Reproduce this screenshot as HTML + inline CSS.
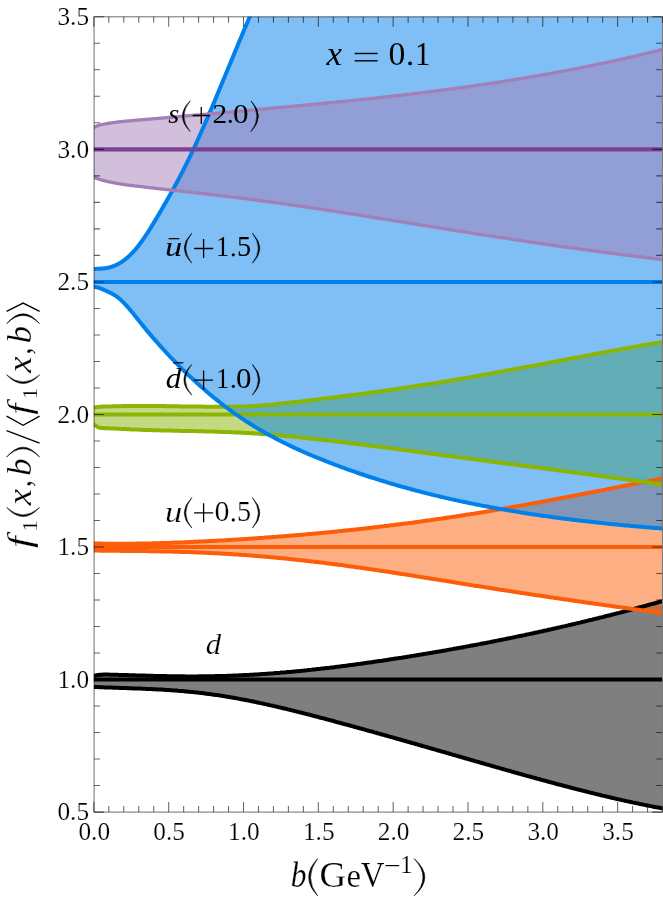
<!DOCTYPE html>
<html><head><meta charset="utf-8"><title>plot</title>
<style>html,body{margin:0;padding:0;background:#fff}svg{display:block;will-change:transform}text{font-family:"Liberation Serif",serif}</style></head>
<body>
<svg width="663" height="908" viewBox="0 0 663 908" font-family="'Liberation Serif', serif">
<rect width="663" height="908" fill="#fff"/>
<defs><clipPath id="c"><rect x="93.85" y="16.8" width="568.15" height="795.30"/></clipPath></defs>
<g clip-path="url(#c)">
<polygon points="93.8,675.8 94.3,675.7 94.8,675.6 95.3,675.5 95.8,675.4 96.3,675.3 96.8,675.2 97.3,675.1 97.8,675.1 98.3,675.0 98.8,674.9 99.3,674.9 99.8,674.8 100.3,674.8 100.8,674.7 101.3,674.7 101.8,674.7 102.3,674.7 102.8,674.6 103.3,674.6 103.8,674.6 104.3,674.6 104.8,674.6 105.3,674.6 105.8,674.6 106.3,674.6 106.8,674.6 107.3,674.6 107.8,674.6 108.3,674.6 108.8,674.6 109.3,674.6 109.8,674.7 110.3,674.7 110.8,674.7 111.3,674.7 111.8,674.7 112.3,674.7 112.8,674.7 113.3,674.7 113.8,674.7 114.3,674.8 114.8,674.8 115.3,674.8 115.8,674.8 116.3,674.8 116.8,674.8 117.3,674.8 117.8,674.8 118.3,674.9 118.8,674.9 119.3,674.9 119.8,674.9 120.3,674.9 120.8,674.9 121.3,674.9 121.8,675.0 122.3,675.0 122.8,675.0 123.3,675.0 123.8,675.0 124.3,675.0 124.8,675.0 125.3,675.1 125.8,675.1 126.3,675.1 126.8,675.1 127.3,675.1 127.8,675.1 128.3,675.1 128.8,675.2 129.3,675.2 129.8,675.2 130.0,675.2 131.5,675.2 133.0,675.3 134.5,675.3 136.0,675.4 137.5,675.4 139.0,675.5 140.5,675.5 142.0,675.6 143.5,675.6 145.0,675.6 146.5,675.7 148.0,675.7 149.5,675.8 151.0,675.8 152.5,675.8 154.0,675.9 155.5,675.9 157.0,676.0 158.5,676.0 160.0,676.0 161.5,676.1 163.0,676.1 164.5,676.1 166.0,676.1 167.5,676.2 169.0,676.2 170.5,676.2 172.0,676.2 173.5,676.2 175.0,676.3 176.5,676.3 178.0,676.3 179.5,676.3 181.0,676.3 182.5,676.3 184.0,676.3 185.5,676.4 187.0,676.4 188.5,676.4 190.0,676.4 191.5,676.4 193.0,676.4 194.5,676.4 196.0,676.4 197.5,676.4 199.0,676.3 200.5,676.3 202.0,676.3 203.5,676.3 205.0,676.3 206.5,676.3 208.0,676.3 209.5,676.2 211.0,676.2 212.5,676.2 214.0,676.2 215.5,676.1 217.0,676.1 218.5,676.1 220.0,676.0 221.5,676.0 223.0,675.9 224.5,675.9 226.0,675.9 227.5,675.8 229.0,675.8 230.5,675.7 232.0,675.7 233.5,675.6 235.0,675.5 236.5,675.5 238.0,675.4 239.5,675.3 241.0,675.3 242.5,675.2 244.0,675.1 245.5,675.1 247.0,675.0 248.5,674.9 250.0,674.8 251.5,674.7 253.0,674.7 254.5,674.6 256.0,674.5 257.5,674.4 259.0,674.3 260.5,674.2 262.0,674.1 263.5,674.0 265.0,673.9 266.5,673.8 268.0,673.7 269.5,673.6 271.0,673.5 272.5,673.4 274.0,673.2 275.5,673.1 277.0,673.0 278.5,672.9 280.0,672.8 281.5,672.6 283.0,672.5 284.5,672.4 286.0,672.3 287.5,672.1 289.0,672.0 290.5,671.9 292.0,671.7 293.5,671.6 295.0,671.4 296.5,671.3 298.0,671.2 299.5,671.0 301.0,670.9 302.5,670.7 304.0,670.6 305.5,670.4 307.0,670.3 308.5,670.1 310.0,669.9 311.5,669.8 313.0,669.6 314.5,669.5 316.0,669.3 317.5,669.1 319.0,669.0 320.5,668.8 322.0,668.6 323.5,668.5 325.0,668.3 326.5,668.1 328.0,667.9 329.5,667.8 331.0,667.6 332.5,667.4 334.0,667.2 335.5,667.0 337.0,666.8 338.5,666.7 340.0,666.5 341.5,666.3 343.0,666.1 344.5,665.9 346.0,665.7 347.5,665.5 349.0,665.3 350.5,665.1 352.0,664.9 353.5,664.7 355.0,664.5 356.5,664.3 358.0,664.1 359.5,663.9 361.0,663.7 362.5,663.5 364.0,663.3 365.5,663.1 367.0,662.8 368.5,662.6 370.0,662.4 371.5,662.2 373.0,662.0 374.5,661.8 376.0,661.6 377.5,661.3 379.0,661.1 380.5,660.9 382.0,660.7 383.5,660.4 385.0,660.2 386.5,660.0 388.0,659.8 389.5,659.5 391.0,659.3 392.5,659.1 394.0,658.8 395.5,658.6 397.0,658.4 398.5,658.1 400.0,657.9 401.5,657.7 403.0,657.4 404.5,657.2 406.0,657.0 407.5,656.7 409.0,656.5 410.5,656.2 412.0,656.0 413.5,655.8 415.0,655.5 416.5,655.3 418.0,655.0 419.5,654.8 421.0,654.5 422.5,654.3 424.0,654.0 425.5,653.8 427.0,653.5 428.5,653.3 430.0,653.0 431.5,652.8 433.0,652.5 434.5,652.3 436.0,652.0 437.5,651.7 439.0,651.5 440.5,651.2 442.0,651.0 443.5,650.7 445.0,650.4 446.5,650.2 448.0,649.9 449.5,649.6 451.0,649.4 452.5,649.1 454.0,648.8 455.5,648.6 457.0,648.3 458.5,648.0 460.0,647.7 461.5,647.5 463.0,647.2 464.5,646.9 466.0,646.6 467.5,646.4 469.0,646.1 470.5,645.8 472.0,645.5 473.5,645.2 475.0,645.0 476.5,644.7 478.0,644.4 479.5,644.1 481.0,643.8 482.5,643.5 484.0,643.2 485.5,643.0 487.0,642.7 488.5,642.4 490.0,642.1 491.5,641.8 493.0,641.5 494.5,641.2 496.0,640.9 497.5,640.6 499.0,640.3 500.5,640.0 502.0,639.7 503.5,639.4 505.0,639.1 506.5,638.8 508.0,638.5 509.5,638.2 511.0,637.9 512.5,637.6 514.0,637.3 515.5,636.9 517.0,636.6 518.5,636.3 520.0,636.0 521.5,635.7 523.0,635.4 524.5,635.1 526.0,634.7 527.5,634.4 529.0,634.1 530.5,633.8 532.0,633.5 533.5,633.1 535.0,632.8 536.5,632.5 538.0,632.2 539.5,631.8 541.0,631.5 542.5,631.2 544.0,630.8 545.5,630.5 547.0,630.2 548.5,629.8 550.0,629.5 551.5,629.2 553.0,628.8 554.5,628.5 556.0,628.1 557.5,627.8 559.0,627.5 560.5,627.1 562.0,626.8 563.5,626.4 565.0,626.1 566.5,625.7 568.0,625.4 569.5,625.0 571.0,624.7 572.5,624.3 574.0,624.0 575.5,623.6 577.0,623.3 578.5,622.9 580.0,622.6 581.5,622.2 583.0,621.8 584.5,621.5 586.0,621.1 587.5,620.8 589.0,620.4 590.5,620.0 592.0,619.7 593.5,619.3 595.0,618.9 596.5,618.5 598.0,618.2 599.5,617.8 601.0,617.4 602.5,617.1 604.0,616.7 605.5,616.3 607.0,615.9 608.5,615.5 610.0,615.2 611.5,614.8 613.0,614.4 614.5,614.0 616.0,613.6 617.5,613.2 619.0,612.9 620.5,612.5 622.0,612.1 623.5,611.7 625.0,611.3 626.5,610.9 628.0,610.5 629.5,610.1 631.0,609.7 632.5,609.3 634.0,608.9 635.5,608.5 637.0,608.1 638.5,607.7 640.0,607.3 641.5,606.9 643.0,606.5 644.5,606.1 646.0,605.7 647.5,605.2 649.0,604.8 650.5,604.4 652.0,604.0 653.5,603.6 655.0,603.2 656.5,602.8 658.0,602.3 659.5,601.9 661.0,601.5 662.5,601.1 664.0,600.6 664.0,808.7 662.5,808.4 661.0,808.1 659.5,807.8 658.0,807.5 656.5,807.2 655.0,807.0 653.5,806.7 652.0,806.4 650.5,806.1 649.0,805.8 647.5,805.5 646.0,805.2 644.5,804.9 643.0,804.6 641.5,804.3 640.0,804.0 638.5,803.6 637.0,803.3 635.5,803.0 634.0,802.7 632.5,802.4 631.0,802.0 629.5,801.7 628.0,801.4 626.5,801.1 625.0,800.7 623.5,800.4 622.0,800.1 620.5,799.7 619.0,799.4 617.5,799.1 616.0,798.7 614.5,798.4 613.0,798.0 611.5,797.7 610.0,797.3 608.5,797.0 607.0,796.6 605.5,796.3 604.0,795.9 602.5,795.6 601.0,795.2 599.5,794.8 598.0,794.5 596.5,794.1 595.0,793.7 593.5,793.4 592.0,793.0 590.5,792.6 589.0,792.3 587.5,791.9 586.0,791.5 584.5,791.1 583.0,790.8 581.5,790.4 580.0,790.0 578.5,789.6 577.0,789.2 575.5,788.9 574.0,788.5 572.5,788.1 571.0,787.7 569.5,787.3 568.0,786.9 566.5,786.5 565.0,786.1 563.5,785.7 562.0,785.3 560.5,784.9 559.0,784.5 557.5,784.2 556.0,783.8 554.5,783.3 553.0,782.9 551.5,782.5 550.0,782.1 548.5,781.7 547.0,781.3 545.5,780.9 544.0,780.5 542.5,780.1 541.0,779.7 539.5,779.3 538.0,778.9 536.5,778.5 535.0,778.0 533.5,777.6 532.0,777.2 530.5,776.8 529.0,776.4 527.5,776.0 526.0,775.6 524.5,775.1 523.0,774.7 521.5,774.3 520.0,773.9 518.5,773.5 517.0,773.0 515.5,772.6 514.0,772.2 512.5,771.8 511.0,771.3 509.5,770.9 508.0,770.5 506.5,770.1 505.0,769.6 503.5,769.2 502.0,768.8 500.5,768.4 499.0,767.9 497.5,767.5 496.0,767.1 494.5,766.6 493.0,766.2 491.5,765.8 490.0,765.4 488.5,764.9 487.0,764.5 485.5,764.1 484.0,763.6 482.5,763.2 481.0,762.8 479.5,762.3 478.0,761.9 476.5,761.5 475.0,761.1 473.5,760.6 472.0,760.2 470.5,759.8 469.0,759.3 467.5,758.9 466.0,758.5 464.5,758.0 463.0,757.6 461.5,757.2 460.0,756.7 458.5,756.3 457.0,755.9 455.5,755.4 454.0,755.0 452.5,754.6 451.0,754.1 449.5,753.7 448.0,753.3 446.5,752.8 445.0,752.4 443.5,752.0 442.0,751.6 440.5,751.1 439.0,750.7 437.5,750.3 436.0,749.8 434.5,749.4 433.0,749.0 431.5,748.5 430.0,748.1 428.5,747.7 427.0,747.2 425.5,746.8 424.0,746.4 422.5,746.0 421.0,745.5 419.5,745.1 418.0,744.7 416.5,744.2 415.0,743.8 413.5,743.4 412.0,743.0 410.5,742.5 409.0,742.1 407.5,741.7 406.0,741.2 404.5,740.8 403.0,740.4 401.5,740.0 400.0,739.5 398.5,739.1 397.0,738.7 395.5,738.3 394.0,737.8 392.5,737.4 391.0,737.0 389.5,736.6 388.0,736.1 386.5,735.7 385.0,735.3 383.5,734.9 382.0,734.5 380.5,734.0 379.0,733.6 377.5,733.2 376.0,732.8 374.5,732.4 373.0,731.9 371.5,731.5 370.0,731.1 368.5,730.7 367.0,730.3 365.5,729.9 364.0,729.4 362.5,729.0 361.0,728.6 359.5,728.2 358.0,727.8 356.5,727.4 355.0,727.0 353.5,726.5 352.0,726.1 350.5,725.7 349.0,725.3 347.5,724.9 346.0,724.5 344.5,724.1 343.0,723.7 341.5,723.3 340.0,722.9 338.5,722.5 337.0,722.1 335.5,721.7 334.0,721.2 332.5,720.8 331.0,720.4 329.5,720.0 328.0,719.6 326.5,719.2 325.0,718.8 323.5,718.4 322.0,718.0 320.5,717.7 319.0,717.3 317.5,716.9 316.0,716.5 314.5,716.1 313.0,715.7 311.5,715.3 310.0,714.9 308.5,714.5 307.0,714.1 305.5,713.8 304.0,713.4 302.5,713.0 301.0,712.6 299.5,712.2 298.0,711.9 296.5,711.5 295.0,711.1 293.5,710.7 292.0,710.4 290.5,710.0 289.0,709.6 287.5,709.3 286.0,708.9 284.5,708.5 283.0,708.2 281.5,707.8 280.0,707.5 278.5,707.1 277.0,706.8 275.5,706.4 274.0,706.1 272.5,705.7 271.0,705.4 269.5,705.1 268.0,704.7 266.5,704.4 265.0,704.1 263.5,703.7 262.0,703.4 260.5,703.1 259.0,702.8 257.5,702.5 256.0,702.1 254.5,701.8 253.0,701.5 251.5,701.2 250.0,700.9 248.5,700.6 247.0,700.3 245.5,700.0 244.0,699.7 242.5,699.4 241.0,699.2 239.5,698.9 238.0,698.6 236.5,698.3 235.0,698.1 233.5,697.8 232.0,697.5 230.5,697.3 229.0,697.0 227.5,696.8 226.0,696.5 224.5,696.3 223.0,696.0 221.5,695.8 220.0,695.6 218.5,695.3 217.0,695.1 215.5,694.9 214.0,694.7 212.5,694.5 211.0,694.3 209.5,694.1 208.0,693.9 206.5,693.7 205.0,693.5 203.5,693.3 202.0,693.1 200.5,692.9 199.0,692.8 197.5,692.6 196.0,692.4 194.5,692.3 193.0,692.1 191.5,692.0 190.0,691.8 188.5,691.7 187.0,691.5 185.5,691.4 184.0,691.2 182.5,691.1 181.0,691.0 179.5,690.9 178.0,690.8 176.5,690.6 175.0,690.5 173.5,690.4 172.0,690.3 170.5,690.2 169.0,690.1 167.5,690.0 166.0,689.9 164.5,689.8 163.0,689.7 161.5,689.6 160.0,689.6 158.5,689.5 157.0,689.4 155.5,689.3 154.0,689.2 152.5,689.2 151.0,689.1 149.5,689.0 148.0,689.0 146.5,688.9 145.0,688.8 143.5,688.8 142.0,688.7 140.5,688.6 139.0,688.6 137.5,688.5 136.0,688.5 134.5,688.4 133.0,688.4 131.5,688.3 130.0,688.2 129.8,688.2 129.3,688.2 128.8,688.2 128.3,688.2 127.8,688.2 127.3,688.2 126.8,688.1 126.3,688.1 125.8,688.1 125.3,688.1 124.8,688.1 124.3,688.1 123.8,688.0 123.3,688.0 122.8,688.0 122.3,688.0 121.8,688.0 121.3,687.9 120.8,687.9 120.3,687.9 119.8,687.9 119.3,687.9 118.8,687.9 118.3,687.8 117.8,687.8 117.3,687.8 116.8,687.8 116.3,687.8 115.8,687.8 115.3,687.7 114.8,687.7 114.3,687.7 113.8,687.7 113.3,687.7 112.8,687.7 112.3,687.6 111.8,687.6 111.3,687.6 110.8,687.6 110.3,687.6 109.8,687.6 109.3,687.5 108.8,687.5 108.3,687.5 107.8,687.5 107.3,687.5 106.8,687.4 106.3,687.4 105.8,687.4 105.3,687.4 104.8,687.4 104.3,687.4 103.8,687.3 103.3,687.3 102.8,687.3 102.3,687.3 101.8,687.3 101.3,687.2 100.8,687.2 100.3,687.2 99.8,687.2 99.3,687.2 98.8,687.1 98.3,687.1 97.8,687.1 97.3,687.1 96.8,687.1 96.3,687.0 95.8,687.0 95.3,687.0 94.8,687.0 94.3,687.0 93.8,687.0" fill="#000000" fill-opacity="0.5"/>
<polygon points="93.8,543.5 94.3,543.5 94.8,543.5 95.3,543.5 95.8,543.5 96.3,543.5 96.8,543.5 97.3,543.6 97.8,543.6 98.3,543.6 98.8,543.6 99.3,543.6 99.8,543.6 100.3,543.6 100.8,543.6 101.3,543.6 101.8,543.6 102.3,543.6 102.8,543.6 103.3,543.7 103.8,543.7 104.3,543.7 104.8,543.7 105.3,543.7 105.8,543.7 106.3,543.7 106.8,543.7 107.3,543.7 107.8,543.7 108.3,543.7 108.8,543.7 109.3,543.7 109.8,543.7 110.3,543.7 110.8,543.7 111.3,543.7 111.8,543.7 112.3,543.7 112.8,543.7 113.3,543.7 113.8,543.8 114.3,543.8 114.8,543.8 115.3,543.8 115.8,543.8 116.3,543.8 116.8,543.8 117.3,543.8 117.8,543.8 118.3,543.8 118.8,543.8 119.3,543.8 119.8,543.8 120.3,543.8 120.8,543.8 121.3,543.8 121.8,543.8 122.3,543.8 122.8,543.8 123.3,543.8 123.8,543.8 124.3,543.8 124.8,543.8 125.3,543.7 125.8,543.7 126.3,543.7 126.8,543.7 127.3,543.7 127.8,543.7 128.3,543.7 128.8,543.7 129.3,543.7 129.8,543.7 130.0,543.7 131.5,543.7 133.0,543.7 134.5,543.7 136.0,543.7 137.5,543.6 139.0,543.6 140.5,543.6 142.0,543.6 143.5,543.5 145.0,543.5 146.5,543.5 148.0,543.4 149.5,543.4 151.0,543.4 152.5,543.3 154.0,543.3 155.5,543.3 157.0,543.2 158.5,543.2 160.0,543.1 161.5,543.1 163.0,543.1 164.5,543.0 166.0,543.0 167.5,542.9 169.0,542.9 170.5,542.8 172.0,542.8 173.5,542.7 175.0,542.6 176.5,542.6 178.0,542.5 179.5,542.5 181.0,542.4 182.5,542.4 184.0,542.3 185.5,542.2 187.0,542.2 188.5,542.1 190.0,542.0 191.5,542.0 193.0,541.9 194.5,541.8 196.0,541.8 197.5,541.7 199.0,541.6 200.5,541.5 202.0,541.5 203.5,541.4 205.0,541.3 206.5,541.2 208.0,541.2 209.5,541.1 211.0,541.0 212.5,540.9 214.0,540.9 215.5,540.8 217.0,540.7 218.5,540.6 220.0,540.5 221.5,540.4 223.0,540.4 224.5,540.3 226.0,540.2 227.5,540.1 229.0,540.0 230.5,539.9 232.0,539.8 233.5,539.7 235.0,539.7 236.5,539.6 238.0,539.5 239.5,539.4 241.0,539.3 242.5,539.2 244.0,539.1 245.5,539.0 247.0,538.9 248.5,538.8 250.0,538.7 251.5,538.6 253.0,538.5 254.5,538.4 256.0,538.3 257.5,538.2 259.0,538.1 260.5,538.0 262.0,537.9 263.5,537.8 265.0,537.6 266.5,537.5 268.0,537.4 269.5,537.3 271.0,537.2 272.5,537.1 274.0,537.0 275.5,536.9 277.0,536.8 278.5,536.6 280.0,536.5 281.5,536.4 283.0,536.3 284.5,536.2 286.0,536.0 287.5,535.9 289.0,535.8 290.5,535.7 292.0,535.5 293.5,535.4 295.0,535.3 296.5,535.2 298.0,535.0 299.5,534.9 301.0,534.8 302.5,534.7 304.0,534.5 305.5,534.4 307.0,534.3 308.5,534.1 310.0,534.0 311.5,533.9 313.0,533.7 314.5,533.6 316.0,533.4 317.5,533.3 319.0,533.2 320.5,533.0 322.0,532.9 323.5,532.7 325.0,532.6 326.5,532.4 328.0,532.3 329.5,532.2 331.0,532.0 332.5,531.9 334.0,531.7 335.5,531.6 337.0,531.4 338.5,531.3 340.0,531.1 341.5,530.9 343.0,530.8 344.5,530.6 346.0,530.5 347.5,530.3 349.0,530.2 350.5,530.0 352.0,529.8 353.5,529.7 355.0,529.5 356.5,529.4 358.0,529.2 359.5,529.0 361.0,528.9 362.5,528.7 364.0,528.5 365.5,528.4 367.0,528.2 368.5,528.0 370.0,527.9 371.5,527.7 373.0,527.5 374.5,527.3 376.0,527.2 377.5,527.0 379.0,526.8 380.5,526.6 382.0,526.4 383.5,526.3 385.0,526.1 386.5,525.9 388.0,525.7 389.5,525.5 391.0,525.3 392.5,525.2 394.0,525.0 395.5,524.8 397.0,524.6 398.5,524.4 400.0,524.2 401.5,524.0 403.0,523.8 404.5,523.6 406.0,523.4 407.5,523.3 409.0,523.1 410.5,522.9 412.0,522.7 413.5,522.5 415.0,522.3 416.5,522.1 418.0,521.9 419.5,521.7 421.0,521.4 422.5,521.2 424.0,521.0 425.5,520.8 427.0,520.6 428.5,520.4 430.0,520.2 431.5,520.0 433.0,519.8 434.5,519.6 436.0,519.3 437.5,519.1 439.0,518.9 440.5,518.7 442.0,518.5 443.5,518.3 445.0,518.0 446.5,517.8 448.0,517.6 449.5,517.4 451.0,517.1 452.5,516.9 454.0,516.7 455.5,516.5 457.0,516.2 458.5,516.0 460.0,515.8 461.5,515.5 463.0,515.3 464.5,515.1 466.0,514.8 467.5,514.6 469.0,514.4 470.5,514.1 472.0,513.9 473.5,513.7 475.0,513.4 476.5,513.2 478.0,512.9 479.5,512.7 481.0,512.4 482.5,512.2 484.0,512.0 485.5,511.7 487.0,511.5 488.5,511.2 490.0,511.0 491.5,510.7 493.0,510.4 494.5,510.2 496.0,509.9 497.5,509.7 499.0,509.4 500.5,509.2 502.0,508.9 503.5,508.7 505.0,508.4 506.5,508.1 508.0,507.9 509.5,507.6 511.0,507.3 512.5,507.1 514.0,506.8 515.5,506.5 517.0,506.3 518.5,506.0 520.0,505.7 521.5,505.5 523.0,505.2 524.5,504.9 526.0,504.7 527.5,504.4 529.0,504.1 530.5,503.8 532.0,503.6 533.5,503.3 535.0,503.0 536.5,502.7 538.0,502.5 539.5,502.2 541.0,501.9 542.5,501.6 544.0,501.4 545.5,501.1 547.0,500.8 548.5,500.5 550.0,500.2 551.5,500.0 553.0,499.7 554.5,499.4 556.0,499.1 557.5,498.8 559.0,498.5 560.5,498.3 562.0,498.0 563.5,497.7 565.0,497.4 566.5,497.1 568.0,496.8 569.5,496.5 571.0,496.3 572.5,496.0 574.0,495.7 575.5,495.4 577.0,495.1 578.5,494.8 580.0,494.5 581.5,494.2 583.0,493.9 584.5,493.7 586.0,493.4 587.5,493.1 589.0,492.8 590.5,492.5 592.0,492.2 593.5,491.9 595.0,491.6 596.5,491.3 598.0,491.0 599.5,490.7 601.0,490.4 602.5,490.1 604.0,489.9 605.5,489.6 607.0,489.3 608.5,489.0 610.0,488.7 611.5,488.4 613.0,488.1 614.5,487.8 616.0,487.5 617.5,487.2 619.0,486.9 620.5,486.6 622.0,486.3 623.5,486.0 625.0,485.7 626.5,485.5 628.0,485.2 629.5,484.9 631.0,484.6 632.5,484.3 634.0,484.0 635.5,483.7 637.0,483.4 638.5,483.1 640.0,482.8 641.5,482.5 643.0,482.2 644.5,481.9 646.0,481.6 647.5,481.4 649.0,481.1 650.5,480.8 652.0,480.5 653.5,480.2 655.0,479.9 656.5,479.6 658.0,479.3 659.5,479.0 661.0,478.7 662.5,478.4 664.0,478.2 664.0,613.2 662.5,613.0 661.0,612.8 659.5,612.6 658.0,612.4 656.5,612.2 655.0,612.0 653.5,611.8 652.0,611.6 650.5,611.4 649.0,611.2 647.5,611.0 646.0,610.8 644.5,610.6 643.0,610.4 641.5,610.2 640.0,610.0 638.5,609.8 637.0,609.6 635.5,609.4 634.0,609.2 632.5,609.0 631.0,608.8 629.5,608.5 628.0,608.3 626.5,608.1 625.0,607.9 623.5,607.7 622.0,607.5 620.5,607.3 619.0,607.1 617.5,606.9 616.0,606.7 614.5,606.5 613.0,606.3 611.5,606.0 610.0,605.8 608.5,605.6 607.0,605.4 605.5,605.2 604.0,605.0 602.5,604.8 601.0,604.6 599.5,604.4 598.0,604.1 596.5,603.9 595.0,603.7 593.5,603.5 592.0,603.3 590.5,603.1 589.0,602.9 587.5,602.7 586.0,602.4 584.5,602.2 583.0,602.0 581.5,601.8 580.0,601.6 578.5,601.4 577.0,601.1 575.5,600.9 574.0,600.7 572.5,600.5 571.0,600.3 569.5,600.1 568.0,599.8 566.5,599.6 565.0,599.4 563.5,599.2 562.0,599.0 560.5,598.7 559.0,598.5 557.5,598.3 556.0,598.1 554.5,597.9 553.0,597.6 551.5,597.4 550.0,597.2 548.5,597.0 547.0,596.7 545.5,596.5 544.0,596.3 542.5,596.1 541.0,595.8 539.5,595.6 538.0,595.4 536.5,595.2 535.0,594.9 533.5,594.7 532.0,594.5 530.5,594.3 529.0,594.0 527.5,593.8 526.0,593.6 524.5,593.4 523.0,593.1 521.5,592.9 520.0,592.7 518.5,592.4 517.0,592.2 515.5,592.0 514.0,591.8 512.5,591.5 511.0,591.3 509.5,591.1 508.0,590.8 506.5,590.6 505.0,590.4 503.5,590.1 502.0,589.9 500.5,589.7 499.0,589.4 497.5,589.2 496.0,589.0 494.5,588.7 493.0,588.5 491.5,588.3 490.0,588.0 488.5,587.8 487.0,587.6 485.5,587.3 484.0,587.1 482.5,586.8 481.0,586.6 479.5,586.4 478.0,586.1 476.5,585.9 475.0,585.7 473.5,585.4 472.0,585.2 470.5,584.9 469.0,584.7 467.5,584.5 466.0,584.2 464.5,584.0 463.0,583.7 461.5,583.5 460.0,583.2 458.5,583.0 457.0,582.8 455.5,582.5 454.0,582.3 452.5,582.0 451.0,581.8 449.5,581.6 448.0,581.3 446.5,581.1 445.0,580.8 443.5,580.6 442.0,580.4 440.5,580.1 439.0,579.9 437.5,579.6 436.0,579.4 434.5,579.1 433.0,578.9 431.5,578.7 430.0,578.4 428.5,578.2 427.0,577.9 425.5,577.7 424.0,577.5 422.5,577.2 421.0,577.0 419.5,576.7 418.0,576.5 416.5,576.3 415.0,576.0 413.5,575.8 412.0,575.6 410.5,575.3 409.0,575.1 407.5,574.8 406.0,574.6 404.5,574.4 403.0,574.1 401.5,573.9 400.0,573.7 398.5,573.4 397.0,573.2 395.5,573.0 394.0,572.7 392.5,572.5 391.0,572.3 389.5,572.1 388.0,571.8 386.5,571.6 385.0,571.4 383.5,571.1 382.0,570.9 380.5,570.7 379.0,570.5 377.5,570.2 376.0,570.0 374.5,569.8 373.0,569.6 371.5,569.4 370.0,569.1 368.5,568.9 367.0,568.7 365.5,568.5 364.0,568.3 362.5,568.1 361.0,567.8 359.5,567.6 358.0,567.4 356.5,567.2 355.0,567.0 353.5,566.8 352.0,566.6 350.5,566.4 349.0,566.2 347.5,566.0 346.0,565.7 344.5,565.5 343.0,565.3 341.5,565.1 340.0,564.9 338.5,564.7 337.0,564.5 335.5,564.3 334.0,564.2 332.5,564.0 331.0,563.8 329.5,563.6 328.0,563.4 326.5,563.2 325.0,563.0 323.5,562.8 322.0,562.6 320.5,562.5 319.0,562.3 317.5,562.1 316.0,561.9 314.5,561.7 313.0,561.6 311.5,561.4 310.0,561.2 308.5,561.0 307.0,560.9 305.5,560.7 304.0,560.5 302.5,560.4 301.0,560.2 299.5,560.0 298.0,559.9 296.5,559.7 295.0,559.6 293.5,559.4 292.0,559.2 290.5,559.1 289.0,558.9 287.5,558.8 286.0,558.6 284.5,558.5 283.0,558.3 281.5,558.2 280.0,558.0 278.5,557.9 277.0,557.8 275.5,557.6 274.0,557.5 272.5,557.3 271.0,557.2 269.5,557.1 268.0,556.9 266.5,556.8 265.0,556.7 263.5,556.5 262.0,556.4 260.5,556.3 259.0,556.2 257.5,556.0 256.0,555.9 254.5,555.8 253.0,555.7 251.5,555.6 250.0,555.5 248.5,555.3 247.0,555.2 245.5,555.1 244.0,555.0 242.5,554.9 241.0,554.8 239.5,554.7 238.0,554.6 236.5,554.5 235.0,554.4 233.5,554.3 232.0,554.2 230.5,554.1 229.0,554.0 227.5,553.9 226.0,553.8 224.5,553.7 223.0,553.7 221.5,553.6 220.0,553.5 218.5,553.4 217.0,553.3 215.5,553.2 214.0,553.2 212.5,553.1 211.0,553.0 209.5,552.9 208.0,552.9 206.5,552.8 205.0,552.7 203.5,552.7 202.0,552.6 200.5,552.5 199.0,552.5 197.5,552.4 196.0,552.4 194.5,552.3 193.0,552.2 191.5,552.2 190.0,552.1 188.5,552.1 187.0,552.0 185.5,552.0 184.0,551.9 182.5,551.9 181.0,551.9 179.5,551.8 178.0,551.8 176.5,551.7 175.0,551.7 173.5,551.7 172.0,551.6 170.5,551.6 169.0,551.6 167.5,551.5 166.0,551.5 164.5,551.5 163.0,551.4 161.5,551.4 160.0,551.4 158.5,551.3 157.0,551.3 155.5,551.3 154.0,551.3 152.5,551.2 151.0,551.2 149.5,551.2 148.0,551.2 146.5,551.1 145.0,551.1 143.5,551.1 142.0,551.1 140.5,551.1 139.0,551.1 137.5,551.0 136.0,551.0 134.5,551.0 133.0,551.0 131.5,551.0 130.0,550.9 129.8,550.9 129.3,550.9 128.8,550.9 128.3,550.9 127.8,550.9 127.3,550.9 126.8,550.9 126.3,550.9 125.8,550.9 125.3,550.9 124.8,550.9 124.3,550.9 123.8,550.9 123.3,550.9 122.8,550.9 122.3,550.9 121.8,550.9 121.3,550.9 120.8,550.9 120.3,550.8 119.8,550.8 119.3,550.8 118.8,550.8 118.3,550.8 117.8,550.8 117.3,550.8 116.8,550.8 116.3,550.8 115.8,550.8 115.3,550.8 114.8,550.8 114.3,550.8 113.8,550.8 113.3,550.8 112.8,550.8 112.3,550.8 111.8,550.8 111.3,550.8 110.8,550.8 110.3,550.8 109.8,550.7 109.3,550.7 108.8,550.7 108.3,550.7 107.8,550.7 107.3,550.7 106.8,550.7 106.3,550.7 105.8,550.7 105.3,550.7 104.8,550.7 104.3,550.7 103.8,550.7 103.3,550.7 102.8,550.7 102.3,550.7 101.8,550.7 101.3,550.7 100.8,550.7 100.3,550.7 99.8,550.6 99.3,550.6 98.8,550.6 98.3,550.6 97.8,550.6 97.3,550.6 96.8,550.6 96.3,550.6 95.8,550.6 95.3,550.6 94.8,550.6 94.3,550.6 93.8,550.6" fill="#fd5d08" fill-opacity="0.5"/>
<polygon points="93.8,408.0 94.3,407.8 94.8,407.6 95.3,407.4 95.8,407.3 96.3,407.2 96.8,407.1 97.3,407.0 97.8,407.0 98.3,406.9 98.8,406.9 99.3,406.8 99.8,406.8 100.3,406.7 100.8,406.7 101.3,406.7 101.8,406.7 102.3,406.6 102.8,406.6 103.3,406.6 103.8,406.6 104.3,406.6 104.8,406.5 105.3,406.5 105.8,406.5 106.3,406.5 106.8,406.5 107.3,406.5 107.8,406.5 108.3,406.4 108.8,406.4 109.3,406.4 109.8,406.4 110.3,406.4 110.8,406.4 111.3,406.4 111.8,406.3 112.3,406.3 112.8,406.3 113.3,406.3 113.8,406.3 114.3,406.3 114.8,406.3 115.3,406.3 115.8,406.3 116.3,406.2 116.8,406.2 117.3,406.2 117.8,406.2 118.3,406.2 118.8,406.2 119.3,406.2 119.8,406.2 120.3,406.2 120.8,406.2 121.3,406.2 121.8,406.1 122.3,406.1 122.8,406.1 123.3,406.1 123.8,406.1 124.3,406.1 124.8,406.1 125.3,406.1 125.8,406.1 126.3,406.1 126.8,406.1 127.3,406.1 127.8,406.1 128.3,406.1 128.8,406.1 129.3,406.1 129.8,406.1 130.0,406.1 131.5,406.0 133.0,406.0 134.5,406.0 136.0,406.0 137.5,406.0 139.0,406.0 140.5,406.0 142.0,406.0 143.5,406.0 145.0,406.0 146.5,406.0 148.0,406.0 149.5,406.0 151.0,406.0 152.5,406.0 154.0,406.1 155.5,406.1 157.0,406.1 158.5,406.1 160.0,406.1 161.5,406.1 163.0,406.1 164.5,406.1 166.0,406.2 167.5,406.2 169.0,406.2 170.5,406.2 172.0,406.2 173.5,406.3 175.0,406.3 176.5,406.3 178.0,406.3 179.5,406.3 181.0,406.4 182.5,406.4 184.0,406.4 185.5,406.4 187.0,406.4 188.5,406.5 190.0,406.5 191.5,406.5 193.0,406.5 194.5,406.5 196.0,406.6 197.5,406.6 199.0,406.6 200.5,406.6 202.0,406.6 203.5,406.7 205.0,406.7 206.5,406.7 208.0,406.7 209.5,406.7 211.0,406.7 212.5,406.8 214.0,406.8 215.5,406.8 217.0,406.8 218.5,406.8 220.0,406.8 221.5,406.8 223.0,406.8 224.5,406.8 226.0,406.8 227.5,406.8 229.0,406.8 230.5,406.7 232.0,406.7 233.5,406.7 235.0,406.7 236.5,406.6 238.0,406.6 239.5,406.6 241.0,406.5 242.5,406.5 244.0,406.4 245.5,406.4 247.0,406.3 248.5,406.2 250.0,406.2 251.5,406.1 253.0,406.0 254.5,405.9 256.0,405.9 257.5,405.8 259.0,405.7 260.5,405.5 262.0,405.4 263.5,405.3 265.0,405.2 266.5,405.1 268.0,405.0 269.5,404.8 271.0,404.7 272.5,404.5 274.0,404.4 275.5,404.3 277.0,404.1 278.5,404.0 280.0,403.8 281.5,403.6 283.0,403.5 284.5,403.3 286.0,403.1 287.5,403.0 289.0,402.8 290.5,402.6 292.0,402.5 293.5,402.3 295.0,402.1 296.5,401.9 298.0,401.8 299.5,401.6 301.0,401.4 302.5,401.2 304.0,401.1 305.5,400.9 307.0,400.7 308.5,400.5 310.0,400.3 311.5,400.2 313.0,400.0 314.5,399.8 316.0,399.6 317.5,399.4 319.0,399.3 320.5,399.1 322.0,398.9 323.5,398.7 325.0,398.5 326.5,398.3 328.0,398.2 329.5,398.0 331.0,397.8 332.5,397.6 334.0,397.4 335.5,397.2 337.0,397.0 338.5,396.9 340.0,396.7 341.5,396.5 343.0,396.3 344.5,396.1 346.0,395.9 347.5,395.7 349.0,395.5 350.5,395.3 352.0,395.1 353.5,394.9 355.0,394.7 356.5,394.5 358.0,394.3 359.5,394.2 361.0,394.0 362.5,393.8 364.0,393.6 365.5,393.4 367.0,393.2 368.5,393.0 370.0,392.7 371.5,392.5 373.0,392.3 374.5,392.1 376.0,391.9 377.5,391.7 379.0,391.5 380.5,391.3 382.0,391.1 383.5,390.9 385.0,390.7 386.5,390.5 388.0,390.3 389.5,390.0 391.0,389.8 392.5,389.6 394.0,389.4 395.5,389.2 397.0,389.0 398.5,388.7 400.0,388.5 401.5,388.3 403.0,388.1 404.5,387.9 406.0,387.6 407.5,387.4 409.0,387.2 410.5,387.0 412.0,386.7 413.5,386.5 415.0,386.3 416.5,386.0 418.0,385.8 419.5,385.6 421.0,385.3 422.5,385.1 424.0,384.9 425.5,384.6 427.0,384.4 428.5,384.2 430.0,383.9 431.5,383.7 433.0,383.4 434.5,383.2 436.0,383.0 437.5,382.7 439.0,382.5 440.5,382.2 442.0,382.0 443.5,381.7 445.0,381.5 446.5,381.2 448.0,381.0 449.5,380.7 451.0,380.5 452.5,380.2 454.0,380.0 455.5,379.7 457.0,379.5 458.5,379.2 460.0,378.9 461.5,378.7 463.0,378.4 464.5,378.2 466.0,377.9 467.5,377.6 469.0,377.4 470.5,377.1 472.0,376.9 473.5,376.6 475.0,376.3 476.5,376.1 478.0,375.8 479.5,375.5 481.0,375.3 482.5,375.0 484.0,374.7 485.5,374.5 487.0,374.2 488.5,373.9 490.0,373.7 491.5,373.4 493.0,373.1 494.5,372.8 496.0,372.6 497.5,372.3 499.0,372.0 500.5,371.7 502.0,371.5 503.5,371.2 505.0,370.9 506.5,370.6 508.0,370.4 509.5,370.1 511.0,369.8 512.5,369.5 514.0,369.3 515.5,369.0 517.0,368.7 518.5,368.4 520.0,368.2 521.5,367.9 523.0,367.6 524.5,367.3 526.0,367.0 527.5,366.8 529.0,366.5 530.5,366.2 532.0,365.9 533.5,365.6 535.0,365.4 536.5,365.1 538.0,364.8 539.5,364.5 541.0,364.2 542.5,363.9 544.0,363.7 545.5,363.4 547.0,363.1 548.5,362.8 550.0,362.5 551.5,362.2 553.0,362.0 554.5,361.7 556.0,361.4 557.5,361.1 559.0,360.8 560.5,360.5 562.0,360.3 563.5,360.0 565.0,359.7 566.5,359.4 568.0,359.1 569.5,358.9 571.0,358.6 572.5,358.3 574.0,358.0 575.5,357.7 577.0,357.4 578.5,357.2 580.0,356.9 581.5,356.6 583.0,356.3 584.5,356.0 586.0,355.7 587.5,355.5 589.0,355.2 590.5,354.9 592.0,354.6 593.5,354.3 595.0,354.1 596.5,353.8 598.0,353.5 599.5,353.2 601.0,352.9 602.5,352.7 604.0,352.4 605.5,352.1 607.0,351.8 608.5,351.6 610.0,351.3 611.5,351.0 613.0,350.7 614.5,350.4 616.0,350.2 617.5,349.9 619.0,349.6 620.5,349.3 622.0,349.1 623.5,348.8 625.0,348.5 626.5,348.3 628.0,348.0 629.5,347.7 631.0,347.4 632.5,347.2 634.0,346.9 635.5,346.6 637.0,346.4 638.5,346.1 640.0,345.8 641.5,345.6 643.0,345.3 644.5,345.0 646.0,344.8 647.5,344.5 649.0,344.2 650.5,344.0 652.0,343.7 653.5,343.4 655.0,343.2 656.5,342.9 658.0,342.7 659.5,342.4 661.0,342.1 662.5,341.9 664.0,341.6 664.0,484.9 662.5,484.7 661.0,484.4 659.5,484.2 658.0,484.0 656.5,483.8 655.0,483.6 653.5,483.4 652.0,483.1 650.5,482.9 649.0,482.7 647.5,482.5 646.0,482.3 644.5,482.1 643.0,481.9 641.5,481.6 640.0,481.4 638.5,481.2 637.0,481.0 635.5,480.8 634.0,480.6 632.5,480.4 631.0,480.2 629.5,480.0 628.0,479.8 626.5,479.5 625.0,479.3 623.5,479.1 622.0,478.9 620.5,478.7 619.0,478.5 617.5,478.3 616.0,478.1 614.5,477.9 613.0,477.7 611.5,477.5 610.0,477.3 608.5,477.1 607.0,476.9 605.5,476.7 604.0,476.4 602.5,476.2 601.0,476.0 599.5,475.8 598.0,475.6 596.5,475.4 595.0,475.2 593.5,475.0 592.0,474.8 590.5,474.6 589.0,474.4 587.5,474.2 586.0,474.0 584.5,473.8 583.0,473.6 581.5,473.4 580.0,473.2 578.5,473.0 577.0,472.8 575.5,472.6 574.0,472.4 572.5,472.2 571.0,472.0 569.5,471.8 568.0,471.6 566.5,471.4 565.0,471.2 563.5,471.0 562.0,470.8 560.5,470.6 559.0,470.4 557.5,470.2 556.0,470.0 554.5,469.8 553.0,469.6 551.5,469.4 550.0,469.2 548.5,469.0 547.0,468.8 545.5,468.6 544.0,468.4 542.5,468.2 541.0,468.0 539.5,467.8 538.0,467.7 536.5,467.5 535.0,467.3 533.5,467.1 532.0,466.9 530.5,466.7 529.0,466.5 527.5,466.3 526.0,466.1 524.5,465.9 523.0,465.7 521.5,465.5 520.0,465.3 518.5,465.1 517.0,464.9 515.5,464.7 514.0,464.5 512.5,464.3 511.0,464.1 509.5,463.9 508.0,463.7 506.5,463.5 505.0,463.3 503.5,463.1 502.0,462.9 500.5,462.8 499.0,462.6 497.5,462.4 496.0,462.2 494.5,462.0 493.0,461.8 491.5,461.6 490.0,461.4 488.5,461.2 487.0,461.0 485.5,460.8 484.0,460.6 482.5,460.4 481.0,460.2 479.5,460.0 478.0,459.8 476.5,459.6 475.0,459.4 473.5,459.2 472.0,459.0 470.5,458.8 469.0,458.6 467.5,458.4 466.0,458.2 464.5,458.0 463.0,457.8 461.5,457.6 460.0,457.4 458.5,457.2 457.0,457.1 455.5,456.9 454.0,456.7 452.5,456.5 451.0,456.3 449.5,456.1 448.0,455.9 446.5,455.7 445.0,455.5 443.5,455.3 442.0,455.1 440.5,454.9 439.0,454.7 437.5,454.5 436.0,454.3 434.5,454.1 433.0,453.9 431.5,453.7 430.0,453.5 428.5,453.3 427.0,453.1 425.5,452.9 424.0,452.7 422.5,452.5 421.0,452.3 419.5,452.1 418.0,451.9 416.5,451.7 415.0,451.5 413.5,451.3 412.0,451.1 410.5,450.9 409.0,450.7 407.5,450.5 406.0,450.3 404.5,450.1 403.0,449.9 401.5,449.7 400.0,449.5 398.5,449.3 397.0,449.1 395.5,448.9 394.0,448.7 392.5,448.5 391.0,448.3 389.5,448.1 388.0,447.9 386.5,447.7 385.0,447.5 383.5,447.3 382.0,447.2 380.5,447.0 379.0,446.8 377.5,446.6 376.0,446.4 374.5,446.2 373.0,446.0 371.5,445.8 370.0,445.6 368.5,445.4 367.0,445.2 365.5,445.0 364.0,444.9 362.5,444.7 361.0,444.5 359.5,444.3 358.0,444.1 356.5,443.9 355.0,443.7 353.5,443.6 352.0,443.4 350.5,443.2 349.0,443.0 347.5,442.8 346.0,442.6 344.5,442.5 343.0,442.3 341.5,442.1 340.0,441.9 338.5,441.7 337.0,441.6 335.5,441.4 334.0,441.2 332.5,441.0 331.0,440.9 329.5,440.7 328.0,440.5 326.5,440.3 325.0,440.2 323.5,440.0 322.0,439.8 320.5,439.7 319.0,439.5 317.5,439.3 316.0,439.2 314.5,439.0 313.0,438.8 311.5,438.7 310.0,438.5 308.5,438.3 307.0,438.2 305.5,438.0 304.0,437.9 302.5,437.7 301.0,437.5 299.5,437.4 298.0,437.2 296.5,437.1 295.0,436.9 293.5,436.8 292.0,436.6 290.5,436.5 289.0,436.3 287.5,436.2 286.0,436.0 284.5,435.9 283.0,435.7 281.5,435.6 280.0,435.5 278.5,435.3 277.0,435.2 275.5,435.1 274.0,434.9 272.5,434.8 271.0,434.7 269.5,434.6 268.0,434.4 266.5,434.3 265.0,434.2 263.5,434.1 262.0,434.0 260.5,433.9 259.0,433.7 257.5,433.6 256.0,433.5 254.5,433.4 253.0,433.3 251.5,433.3 250.0,433.2 248.5,433.1 247.0,433.0 245.5,432.9 244.0,432.8 242.5,432.7 241.0,432.7 239.5,432.6 238.0,432.5 236.5,432.5 235.0,432.4 233.5,432.3 232.0,432.3 230.5,432.2 229.0,432.1 227.5,432.1 226.0,432.0 224.5,432.0 223.0,431.9 221.5,431.9 220.0,431.8 218.5,431.8 217.0,431.7 215.5,431.7 214.0,431.6 212.5,431.6 211.0,431.5 209.5,431.5 208.0,431.5 206.5,431.4 205.0,431.4 203.5,431.3 202.0,431.3 200.5,431.3 199.0,431.2 197.5,431.2 196.0,431.2 194.5,431.1 193.0,431.1 191.5,431.1 190.0,431.0 188.5,431.0 187.0,431.0 185.5,430.9 184.0,430.9 182.5,430.9 181.0,430.9 179.5,430.8 178.0,430.8 176.5,430.8 175.0,430.7 173.5,430.7 172.0,430.7 170.5,430.6 169.0,430.6 167.5,430.6 166.0,430.5 164.5,430.5 163.0,430.4 161.5,430.4 160.0,430.4 158.5,430.3 157.0,430.3 155.5,430.2 154.0,430.2 152.5,430.2 151.0,430.1 149.5,430.1 148.0,430.0 146.5,430.0 145.0,429.9 143.5,429.9 142.0,429.8 140.5,429.8 139.0,429.7 137.5,429.6 136.0,429.6 134.5,429.5 133.0,429.5 131.5,429.4 130.0,429.3 129.8,429.3 129.3,429.3 128.8,429.3 128.3,429.2 127.8,429.2 127.3,429.2 126.8,429.2 126.3,429.1 125.8,429.1 125.3,429.1 124.8,429.1 124.3,429.0 123.8,429.0 123.3,429.0 122.8,429.0 122.3,428.9 121.8,428.9 121.3,428.9 120.8,428.9 120.3,428.8 119.8,428.8 119.3,428.8 118.8,428.8 118.3,428.7 117.8,428.7 117.3,428.7 116.8,428.7 116.3,428.7 115.8,428.6 115.3,428.6 114.8,428.6 114.3,428.6 113.8,428.5 113.3,428.5 112.8,428.5 112.3,428.5 111.8,428.5 111.3,428.4 110.8,428.4 110.3,428.4 109.8,428.4 109.3,428.3 108.8,428.3 108.3,428.3 107.8,428.3 107.3,428.3 106.8,428.3 106.3,428.2 105.8,428.2 105.3,428.2 104.8,428.2 104.3,428.2 103.8,428.2 103.3,428.2 102.8,428.1 102.3,428.1 101.8,428.1 101.3,428.0 100.8,428.0 100.3,427.9 99.8,427.8 99.3,427.6 98.8,427.5 98.3,427.3 97.8,427.0 97.3,426.7 96.8,426.4 96.3,426.1 95.8,425.7 95.3,425.3 94.8,425.0 94.3,424.7 93.8,424.5" fill="#8ab505" fill-opacity="0.5"/>
<polygon points="93.8,268.9 94.3,268.9 94.8,268.9 95.3,268.9 95.8,268.9 96.3,268.8 96.8,268.8 97.3,268.8 97.8,268.8 98.3,268.8 98.8,268.8 99.3,268.7 99.8,268.7 100.3,268.7 100.8,268.6 101.3,268.6 101.8,268.6 102.3,268.5 102.8,268.5 103.3,268.4 103.8,268.4 104.3,268.3 104.8,268.3 105.3,268.2 105.8,268.1 106.3,268.0 106.8,268.0 107.3,267.9 107.8,267.8 108.3,267.7 108.8,267.5 109.3,267.4 109.8,267.3 110.3,267.2 110.8,267.0 111.3,266.9 111.8,266.7 112.3,266.6 112.8,266.4 113.3,266.2 113.8,266.0 114.3,265.8 114.8,265.6 115.3,265.4 115.8,265.2 116.3,265.0 116.8,264.7 117.3,264.5 117.8,264.2 118.3,264.0 118.8,263.7 119.3,263.4 119.8,263.1 120.3,262.8 120.8,262.5 121.3,262.2 121.8,261.9 122.3,261.5 122.8,261.2 123.3,260.8 123.8,260.4 124.3,260.1 124.8,259.7 125.3,259.3 125.8,258.9 126.3,258.5 126.8,258.1 127.3,257.6 127.8,257.2 128.3,256.7 128.8,256.3 129.3,255.8 129.8,255.3 130.0,255.2 131.5,253.7 133.0,252.1 134.5,250.5 136.0,248.7 137.5,246.9 139.0,245.0 140.5,243.0 142.0,241.0 143.5,238.9 145.0,236.7 146.5,234.4 148.0,232.1 149.5,229.8 151.0,227.4 152.5,224.9 154.0,222.4 155.5,219.9 157.0,217.4 158.5,214.8 160.0,212.3 161.5,209.7 163.0,207.1 164.5,204.5 166.0,201.9 167.5,199.3 169.0,196.6 170.5,193.9 172.0,191.2 173.5,188.5 175.0,185.8 176.5,183.0 178.0,180.2 179.5,177.4 181.0,174.5 182.5,171.6 184.0,168.7 185.5,165.7 187.0,162.7 188.5,159.7 190.0,156.6 191.5,153.4 193.0,150.3 194.5,147.1 196.0,143.8 197.5,140.5 199.0,137.2 200.5,133.8 202.0,130.4 203.5,127.0 205.0,123.6 206.5,120.1 208.0,116.6 209.5,113.1 211.0,109.6 212.5,106.0 214.0,102.4 215.5,98.9 217.0,95.3 218.5,91.7 220.0,88.1 221.5,84.4 223.0,80.8 224.5,77.2 226.0,73.6 227.5,69.9 229.0,66.3 230.5,62.7 232.0,59.1 233.5,55.4 235.0,51.8 236.5,48.2 238.0,44.6 239.5,41.0 241.0,37.4 242.5,33.9 244.0,30.3 245.5,26.8 247.0,23.2 248.5,19.7 250.0,16.2 251.5,12.7 253.0,9.3 270.0,-40.0 667.2,-40.0 664.0,528.7 662.5,528.6 661.0,528.5 659.5,528.3 658.0,528.2 656.5,528.1 655.0,528.0 653.5,527.9 652.0,527.7 650.5,527.6 649.0,527.5 647.5,527.4 646.0,527.2 644.5,527.1 643.0,527.0 641.5,526.8 640.0,526.7 638.5,526.6 637.0,526.4 635.5,526.3 634.0,526.2 632.5,526.0 631.0,525.9 629.5,525.8 628.0,525.6 626.5,525.5 625.0,525.4 623.5,525.2 622.0,525.1 620.5,524.9 619.0,524.8 617.5,524.6 616.0,524.5 614.5,524.3 613.0,524.2 611.5,524.0 610.0,523.9 608.5,523.7 607.0,523.6 605.5,523.4 604.0,523.3 602.5,523.1 601.0,523.0 599.5,522.8 598.0,522.6 596.5,522.5 595.0,522.3 593.5,522.1 592.0,522.0 590.5,521.8 589.0,521.6 587.5,521.5 586.0,521.3 584.5,521.1 583.0,520.9 581.5,520.8 580.0,520.6 578.5,520.4 577.0,520.2 575.5,520.1 574.0,519.9 572.5,519.7 571.0,519.5 569.5,519.3 568.0,519.1 566.5,518.9 565.0,518.8 563.5,518.6 562.0,518.4 560.5,518.2 559.0,518.0 557.5,517.8 556.0,517.6 554.5,517.4 553.0,517.2 551.5,517.0 550.0,516.8 548.5,516.6 547.0,516.3 545.5,516.1 544.0,515.9 542.5,515.7 541.0,515.5 539.5,515.3 538.0,515.1 536.5,514.8 535.0,514.6 533.5,514.4 532.0,514.2 530.5,513.9 529.0,513.7 527.5,513.5 526.0,513.2 524.5,513.0 523.0,512.8 521.5,512.5 520.0,512.3 518.5,512.0 517.0,511.8 515.5,511.6 514.0,511.3 512.5,511.1 511.0,510.8 509.5,510.6 508.0,510.3 506.5,510.0 505.0,509.8 503.5,509.5 502.0,509.3 500.5,509.0 499.0,508.7 497.5,508.5 496.0,508.2 494.5,507.9 493.0,507.6 491.5,507.4 490.0,507.1 488.5,506.8 487.0,506.5 485.5,506.2 484.0,505.9 482.5,505.7 481.0,505.4 479.5,505.1 478.0,504.8 476.5,504.5 475.0,504.2 473.5,503.9 472.0,503.6 470.5,503.3 469.0,503.0 467.5,502.6 466.0,502.3 464.5,502.0 463.0,501.7 461.5,501.4 460.0,501.1 458.5,500.7 457.0,500.4 455.5,500.1 454.0,499.7 452.5,499.4 451.0,499.1 449.5,498.7 448.0,498.4 446.5,498.1 445.0,497.7 443.5,497.4 442.0,497.0 440.5,496.7 439.0,496.3 437.5,495.9 436.0,495.6 434.5,495.2 433.0,494.9 431.5,494.5 430.0,494.1 428.5,493.7 427.0,493.4 425.5,493.0 424.0,492.6 422.5,492.2 421.0,491.8 419.5,491.4 418.0,491.0 416.5,490.7 415.0,490.3 413.5,489.9 412.0,489.5 410.5,489.0 409.0,488.6 407.5,488.2 406.0,487.8 404.5,487.4 403.0,487.0 401.5,486.6 400.0,486.1 398.5,485.7 397.0,485.3 395.5,484.8 394.0,484.4 392.5,484.0 391.0,483.5 389.5,483.1 388.0,482.6 386.5,482.2 385.0,481.7 383.5,481.2 382.0,480.8 380.5,480.3 379.0,479.9 377.5,479.4 376.0,478.9 374.5,478.4 373.0,477.9 371.5,477.5 370.0,477.0 368.5,476.5 367.0,476.0 365.5,475.5 364.0,475.0 362.5,474.5 361.0,474.0 359.5,473.5 358.0,473.0 356.5,472.5 355.0,471.9 353.5,471.4 352.0,470.9 350.5,470.4 349.0,469.8 347.5,469.3 346.0,468.8 344.5,468.2 343.0,467.7 341.5,467.1 340.0,466.6 338.5,466.0 337.0,465.4 335.5,464.9 334.0,464.3 332.5,463.7 331.0,463.2 329.5,462.6 328.0,462.0 326.5,461.4 325.0,460.8 323.5,460.2 322.0,459.6 320.5,459.0 319.0,458.4 317.5,457.8 316.0,457.2 314.5,456.6 313.0,456.0 311.5,455.3 310.0,454.7 308.5,454.1 307.0,453.4 305.5,452.8 304.0,452.1 302.5,451.5 301.0,450.8 299.5,450.1 298.0,449.4 296.5,448.7 295.0,448.1 293.5,447.4 292.0,446.6 290.5,445.9 289.0,445.2 287.5,444.5 286.0,443.8 284.5,443.0 283.0,442.3 281.5,441.5 280.0,440.7 278.5,440.0 277.0,439.2 275.5,438.4 274.0,437.6 272.5,436.8 271.0,436.0 269.5,435.2 268.0,434.3 266.5,433.5 265.0,432.7 263.5,431.8 262.0,430.9 260.5,430.1 259.0,429.2 257.5,428.3 256.0,427.4 254.5,426.5 253.0,425.5 251.5,424.6 250.0,423.7 248.5,422.7 247.0,421.8 245.5,420.8 244.0,419.8 242.5,418.8 241.0,417.8 239.5,416.8 238.0,415.7 236.5,414.7 235.0,413.7 233.5,412.6 232.0,411.5 230.5,410.4 229.0,409.3 227.5,408.2 226.0,407.1 224.5,406.0 223.0,404.8 221.5,403.7 220.0,402.5 218.5,401.3 217.0,400.1 215.5,398.9 214.0,397.7 212.5,396.4 211.0,395.2 209.5,393.9 208.0,392.7 206.5,391.4 205.0,390.1 203.5,388.8 202.0,387.5 200.5,386.2 199.0,384.8 197.5,383.5 196.0,382.1 194.5,380.7 193.0,379.3 191.5,377.9 190.0,376.5 188.5,375.1 187.0,373.7 185.5,372.2 184.0,370.8 182.5,369.3 181.0,367.8 179.5,366.3 178.0,364.8 176.5,363.3 175.0,361.7 173.5,360.2 172.0,358.6 170.5,357.1 169.0,355.5 167.5,353.9 166.0,352.3 164.5,350.6 163.0,349.0 161.5,347.4 160.0,345.7 158.5,344.0 157.0,342.3 155.5,340.6 154.0,338.9 152.5,337.2 151.0,335.4 149.5,333.6 148.0,331.9 146.5,330.1 145.0,328.2 143.5,326.4 142.0,324.6 140.5,322.7 139.0,320.8 137.5,318.9 136.0,317.1 134.5,315.2 133.0,313.3 131.5,311.5 130.0,309.7 129.8,309.5 129.3,308.9 128.8,308.3 128.3,307.7 127.8,307.2 127.3,306.6 126.8,306.0 126.3,305.5 125.8,304.9 125.3,304.4 124.8,303.8 124.3,303.3 123.8,302.8 123.3,302.3 122.8,301.8 122.3,301.3 121.8,300.8 121.3,300.4 120.8,299.9 120.3,299.4 119.8,299.0 119.3,298.6 118.8,298.2 118.3,297.8 117.8,297.4 117.3,297.0 116.8,296.6 116.3,296.3 115.8,295.9 115.3,295.6 114.8,295.3 114.3,295.0 113.8,294.7 113.3,294.4 112.8,294.1 112.3,293.8 111.8,293.5 111.3,293.3 110.8,293.0 110.3,292.8 109.8,292.5 109.3,292.3 108.8,292.1 108.3,291.8 107.8,291.6 107.3,291.4 106.8,291.2 106.3,290.9 105.8,290.7 105.3,290.5 104.8,290.3 104.3,290.1 103.8,289.9 103.3,289.6 102.8,289.4 102.3,289.2 101.8,289.0 101.3,288.8 100.8,288.6 100.3,288.4 99.8,288.2 99.3,288.0 98.8,287.9 98.3,287.7 97.8,287.6 97.3,287.4 96.8,287.3 96.3,287.2 95.8,287.1 95.3,287.0 94.8,287.0 94.3,286.9 93.8,286.9" fill="#0180eb" fill-opacity="0.5"/>
<polygon points="93.8,127.5 94.3,127.3 94.8,127.0 95.3,126.8 95.8,126.5 96.3,126.3 96.8,126.1 97.3,125.9 97.8,125.7 98.3,125.6 98.8,125.4 99.3,125.2 99.8,125.1 100.3,125.0 100.8,124.8 101.3,124.7 101.8,124.6 102.3,124.5 102.8,124.4 103.3,124.3 103.8,124.2 104.3,124.1 104.8,124.0 105.3,123.9 105.8,123.8 106.3,123.7 106.8,123.6 107.3,123.5 107.8,123.5 108.3,123.4 108.8,123.3 109.3,123.2 109.8,123.1 110.3,123.1 110.8,123.0 111.3,122.9 111.8,122.8 112.3,122.8 112.8,122.7 113.3,122.6 113.8,122.6 114.3,122.5 114.8,122.4 115.3,122.4 115.8,122.3 116.3,122.2 116.8,122.2 117.3,122.1 117.8,122.0 118.3,122.0 118.8,121.9 119.3,121.9 119.8,121.8 120.3,121.7 120.8,121.7 121.3,121.6 121.8,121.6 122.3,121.5 122.8,121.5 123.3,121.4 123.8,121.4 124.3,121.3 124.8,121.3 125.3,121.2 125.8,121.2 126.3,121.1 126.8,121.1 127.3,121.0 127.8,121.0 128.3,120.9 128.8,120.9 129.3,120.8 129.8,120.8 130.0,120.8 131.5,120.6 133.0,120.5 134.5,120.4 136.0,120.2 137.5,120.1 139.0,120.0 140.5,119.9 142.0,119.7 143.5,119.6 145.0,119.5 146.5,119.4 148.0,119.2 149.5,119.1 151.0,119.0 152.5,118.8 154.0,118.7 155.5,118.6 157.0,118.5 158.5,118.3 160.0,118.2 161.5,118.1 163.0,118.0 164.5,117.8 166.0,117.7 167.5,117.6 169.0,117.4 170.5,117.3 172.0,117.2 173.5,117.0 175.0,116.9 176.5,116.8 178.0,116.7 179.5,116.5 181.0,116.4 182.5,116.3 184.0,116.1 185.5,116.0 187.0,115.9 188.5,115.7 190.0,115.6 191.5,115.5 193.0,115.3 194.5,115.2 196.0,115.1 197.5,114.9 199.0,114.8 200.5,114.7 202.0,114.5 203.5,114.4 205.0,114.3 206.5,114.1 208.0,114.0 209.5,113.9 211.0,113.7 212.5,113.6 214.0,113.5 215.5,113.3 217.0,113.2 218.5,113.1 220.0,112.9 221.5,112.8 223.0,112.7 224.5,112.5 226.0,112.4 227.5,112.3 229.0,112.1 230.5,112.0 232.0,111.8 233.5,111.7 235.0,111.6 236.5,111.4 238.0,111.3 239.5,111.2 241.0,111.0 242.5,110.9 244.0,110.8 245.5,110.6 247.0,110.5 248.5,110.3 250.0,110.2 251.5,110.1 253.0,109.9 254.5,109.8 256.0,109.7 257.5,109.5 259.0,109.4 260.5,109.2 262.0,109.1 263.5,109.0 265.0,108.8 266.5,108.7 268.0,108.6 269.5,108.4 271.0,108.3 272.5,108.1 274.0,108.0 275.5,107.9 277.0,107.7 278.5,107.6 280.0,107.5 281.5,107.3 283.0,107.2 284.5,107.0 286.0,106.9 287.5,106.8 289.0,106.6 290.5,106.5 292.0,106.3 293.5,106.2 295.0,106.1 296.5,105.9 298.0,105.8 299.5,105.6 301.0,105.5 302.5,105.3 304.0,105.2 305.5,105.1 307.0,104.9 308.5,104.8 310.0,104.6 311.5,104.5 313.0,104.3 314.5,104.2 316.0,104.1 317.5,103.9 319.0,103.8 320.5,103.6 322.0,103.5 323.5,103.3 325.0,103.2 326.5,103.0 328.0,102.9 329.5,102.7 331.0,102.6 332.5,102.5 334.0,102.3 335.5,102.2 337.0,102.0 338.5,101.9 340.0,101.7 341.5,101.6 343.0,101.4 344.5,101.3 346.0,101.1 347.5,100.9 349.0,100.8 350.5,100.6 352.0,100.5 353.5,100.3 355.0,100.2 356.5,100.0 358.0,99.9 359.5,99.7 361.0,99.6 362.5,99.4 364.0,99.2 365.5,99.1 367.0,98.9 368.5,98.8 370.0,98.6 371.5,98.4 373.0,98.3 374.5,98.1 376.0,98.0 377.5,97.8 379.0,97.6 380.5,97.5 382.0,97.3 383.5,97.1 385.0,97.0 386.5,96.8 388.0,96.6 389.5,96.5 391.0,96.3 392.5,96.1 394.0,96.0 395.5,95.8 397.0,95.6 398.5,95.5 400.0,95.3 401.5,95.1 403.0,94.9 404.5,94.8 406.0,94.6 407.5,94.4 409.0,94.2 410.5,94.1 412.0,93.9 413.5,93.7 415.0,93.5 416.5,93.3 418.0,93.2 419.5,93.0 421.0,92.8 422.5,92.6 424.0,92.4 425.5,92.2 427.0,92.1 428.5,91.9 430.0,91.7 431.5,91.5 433.0,91.3 434.5,91.1 436.0,90.9 437.5,90.7 439.0,90.5 440.5,90.3 442.0,90.2 443.5,90.0 445.0,89.8 446.5,89.6 448.0,89.4 449.5,89.2 451.0,89.0 452.5,88.8 454.0,88.6 455.5,88.4 457.0,88.2 458.5,88.0 460.0,87.8 461.5,87.5 463.0,87.3 464.5,87.1 466.0,86.9 467.5,86.7 469.0,86.5 470.5,86.3 472.0,86.1 473.5,85.9 475.0,85.6 476.5,85.4 478.0,85.2 479.5,85.0 481.0,84.8 482.5,84.6 484.0,84.3 485.5,84.1 487.0,83.9 488.5,83.7 490.0,83.4 491.5,83.2 493.0,83.0 494.5,82.8 496.0,82.5 497.5,82.3 499.0,82.1 500.5,81.8 502.0,81.6 503.5,81.4 505.0,81.1 506.5,80.9 508.0,80.7 509.5,80.4 511.0,80.2 512.5,79.9 514.0,79.7 515.5,79.5 517.0,79.2 518.5,79.0 520.0,78.7 521.5,78.5 523.0,78.2 524.5,78.0 526.0,77.7 527.5,77.5 529.0,77.2 530.5,77.0 532.0,76.7 533.5,76.5 535.0,76.2 536.5,75.9 538.0,75.7 539.5,75.4 541.0,75.1 542.5,74.9 544.0,74.6 545.5,74.4 547.0,74.1 548.5,73.8 550.0,73.5 551.5,73.3 553.0,73.0 554.5,72.7 556.0,72.5 557.5,72.2 559.0,71.9 560.5,71.6 562.0,71.3 563.5,71.1 565.0,70.8 566.5,70.5 568.0,70.2 569.5,69.9 571.0,69.6 572.5,69.3 574.0,69.0 575.5,68.8 577.0,68.5 578.5,68.2 580.0,67.9 581.5,67.6 583.0,67.3 584.5,67.0 586.0,66.7 587.5,66.4 589.0,66.1 590.5,65.8 592.0,65.5 593.5,65.2 595.0,64.8 596.5,64.5 598.0,64.2 599.5,63.9 601.0,63.6 602.5,63.3 604.0,63.0 605.5,62.6 607.0,62.3 608.5,62.0 610.0,61.7 611.5,61.3 613.0,61.0 614.5,60.7 616.0,60.4 617.5,60.0 619.0,59.7 620.5,59.4 622.0,59.0 623.5,58.7 625.0,58.4 626.5,58.0 628.0,57.7 629.5,57.3 631.0,57.0 632.5,56.7 634.0,56.3 635.5,56.0 637.0,55.6 638.5,55.3 640.0,54.9 641.5,54.6 643.0,54.2 644.5,53.8 646.0,53.5 647.5,53.1 649.0,52.8 650.5,52.4 652.0,52.0 653.5,51.7 655.0,51.3 656.5,50.9 658.0,50.6 659.5,50.2 661.0,49.8 662.5,49.4 664.0,49.1 664.0,259.7 662.5,259.5 661.0,259.3 659.5,259.2 658.0,259.0 656.5,258.8 655.0,258.6 653.5,258.5 652.0,258.3 650.5,258.1 649.0,257.9 647.5,257.7 646.0,257.6 644.5,257.4 643.0,257.2 641.5,257.0 640.0,256.8 638.5,256.7 637.0,256.5 635.5,256.3 634.0,256.1 632.5,255.9 631.0,255.7 629.5,255.5 628.0,255.4 626.5,255.2 625.0,255.0 623.5,254.8 622.0,254.6 620.5,254.4 619.0,254.2 617.5,254.0 616.0,253.8 614.5,253.6 613.0,253.4 611.5,253.3 610.0,253.1 608.5,252.9 607.0,252.7 605.5,252.5 604.0,252.3 602.5,252.1 601.0,251.9 599.5,251.7 598.0,251.5 596.5,251.3 595.0,251.1 593.5,250.9 592.0,250.7 590.5,250.5 589.0,250.3 587.5,250.1 586.0,249.9 584.5,249.7 583.0,249.5 581.5,249.3 580.0,249.1 578.5,248.8 577.0,248.6 575.5,248.4 574.0,248.2 572.5,248.0 571.0,247.8 569.5,247.6 568.0,247.4 566.5,247.2 565.0,247.0 563.5,246.8 562.0,246.6 560.5,246.3 559.0,246.1 557.5,245.9 556.0,245.7 554.5,245.5 553.0,245.3 551.5,245.1 550.0,244.8 548.5,244.6 547.0,244.4 545.5,244.2 544.0,244.0 542.5,243.8 541.0,243.5 539.5,243.3 538.0,243.1 536.5,242.9 535.0,242.7 533.5,242.4 532.0,242.2 530.5,242.0 529.0,241.8 527.5,241.6 526.0,241.3 524.5,241.1 523.0,240.9 521.5,240.7 520.0,240.5 518.5,240.2 517.0,240.0 515.5,239.8 514.0,239.6 512.5,239.3 511.0,239.1 509.5,238.9 508.0,238.7 506.5,238.4 505.0,238.2 503.5,238.0 502.0,237.7 500.5,237.5 499.0,237.3 497.5,237.1 496.0,236.8 494.5,236.6 493.0,236.4 491.5,236.1 490.0,235.9 488.5,235.7 487.0,235.4 485.5,235.2 484.0,235.0 482.5,234.8 481.0,234.5 479.5,234.3 478.0,234.1 476.5,233.8 475.0,233.6 473.5,233.4 472.0,233.1 470.5,232.9 469.0,232.6 467.5,232.4 466.0,232.2 464.5,231.9 463.0,231.7 461.5,231.5 460.0,231.2 458.5,231.0 457.0,230.8 455.5,230.5 454.0,230.3 452.5,230.0 451.0,229.8 449.5,229.6 448.0,229.3 446.5,229.1 445.0,228.9 443.5,228.6 442.0,228.4 440.5,228.1 439.0,227.9 437.5,227.7 436.0,227.4 434.5,227.2 433.0,226.9 431.5,226.7 430.0,226.5 428.5,226.2 427.0,226.0 425.5,225.7 424.0,225.5 422.5,225.3 421.0,225.0 419.5,224.8 418.0,224.5 416.5,224.3 415.0,224.0 413.5,223.8 412.0,223.6 410.5,223.3 409.0,223.1 407.5,222.8 406.0,222.6 404.5,222.4 403.0,222.1 401.5,221.9 400.0,221.6 398.5,221.4 397.0,221.1 395.5,220.9 394.0,220.7 392.5,220.4 391.0,220.2 389.5,219.9 388.0,219.7 386.5,219.5 385.0,219.2 383.5,219.0 382.0,218.7 380.5,218.5 379.0,218.3 377.5,218.0 376.0,217.8 374.5,217.5 373.0,217.3 371.5,217.1 370.0,216.8 368.5,216.6 367.0,216.4 365.5,216.1 364.0,215.9 362.5,215.6 361.0,215.4 359.5,215.2 358.0,214.9 356.5,214.7 355.0,214.5 353.5,214.2 352.0,214.0 350.5,213.8 349.0,213.5 347.5,213.3 346.0,213.1 344.5,212.8 343.0,212.6 341.5,212.4 340.0,212.1 338.5,211.9 337.0,211.7 335.5,211.4 334.0,211.2 332.5,211.0 331.0,210.7 329.5,210.5 328.0,210.3 326.5,210.1 325.0,209.8 323.5,209.6 322.0,209.4 320.5,209.2 319.0,208.9 317.5,208.7 316.0,208.5 314.5,208.3 313.0,208.0 311.5,207.8 310.0,207.6 308.5,207.4 307.0,207.1 305.5,206.9 304.0,206.7 302.5,206.5 301.0,206.3 299.5,206.1 298.0,205.8 296.5,205.6 295.0,205.4 293.5,205.2 292.0,205.0 290.5,204.8 289.0,204.6 287.5,204.3 286.0,204.1 284.5,203.9 283.0,203.7 281.5,203.5 280.0,203.3 278.5,203.1 277.0,202.9 275.5,202.7 274.0,202.5 272.5,202.3 271.0,202.1 269.5,201.9 268.0,201.7 266.5,201.5 265.0,201.3 263.5,201.1 262.0,200.9 260.5,200.7 259.0,200.5 257.5,200.3 256.0,200.1 254.5,199.9 253.0,199.7 251.5,199.5 250.0,199.3 248.5,199.1 247.0,198.9 245.5,198.7 244.0,198.6 242.5,198.4 241.0,198.2 239.5,198.0 238.0,197.8 236.5,197.6 235.0,197.4 233.5,197.3 232.0,197.1 230.5,196.9 229.0,196.7 227.5,196.5 226.0,196.4 224.5,196.2 223.0,196.0 221.5,195.8 220.0,195.6 218.5,195.5 217.0,195.3 215.5,195.1 214.0,194.9 212.5,194.8 211.0,194.6 209.5,194.4 208.0,194.2 206.5,194.1 205.0,193.9 203.5,193.7 202.0,193.6 200.5,193.4 199.0,193.2 197.5,193.0 196.0,192.9 194.5,192.7 193.0,192.5 191.5,192.4 190.0,192.2 188.5,192.0 187.0,191.8 185.5,191.7 184.0,191.5 182.5,191.3 181.0,191.2 179.5,191.0 178.0,190.8 176.5,190.7 175.0,190.5 173.5,190.3 172.0,190.1 170.5,190.0 169.0,189.8 167.5,189.6 166.0,189.5 164.5,189.3 163.0,189.1 161.5,189.0 160.0,188.8 158.5,188.6 157.0,188.5 155.5,188.3 154.0,188.1 152.5,187.9 151.0,187.8 149.5,187.6 148.0,187.4 146.5,187.3 145.0,187.1 143.5,186.9 142.0,186.7 140.5,186.6 139.0,186.4 137.5,186.2 136.0,186.1 134.5,185.9 133.0,185.7 131.5,185.5 130.0,185.3 129.8,185.3 129.3,185.2 128.8,185.2 128.3,185.1 127.8,185.0 127.3,185.0 126.8,184.9 126.3,184.8 125.8,184.8 125.3,184.7 124.8,184.6 124.3,184.6 123.8,184.5 123.3,184.4 122.8,184.3 122.3,184.3 121.8,184.2 121.3,184.1 120.8,184.0 120.3,184.0 119.8,183.9 119.3,183.8 118.8,183.7 118.3,183.6 117.8,183.5 117.3,183.5 116.8,183.4 116.3,183.3 115.8,183.2 115.3,183.1 114.8,183.0 114.3,182.9 113.8,182.8 113.3,182.7 112.8,182.6 112.3,182.5 111.8,182.4 111.3,182.3 110.8,182.2 110.3,182.1 109.8,182.0 109.3,181.9 108.8,181.8 108.3,181.7 107.8,181.6 107.3,181.4 106.8,181.3 106.3,181.2 105.8,181.1 105.3,181.0 104.8,180.8 104.3,180.7 103.8,180.6 103.3,180.5 102.8,180.3 102.3,180.2 101.8,180.1 101.3,179.9 100.8,179.8 100.3,179.6 99.8,179.5 99.3,179.3 98.8,179.2 98.3,179.0 97.8,178.8 97.3,178.7 96.8,178.5 96.3,178.3 95.8,178.1 95.3,177.9 94.8,177.6 94.3,177.3 93.8,177.1" fill="#a37fb7" fill-opacity="0.5"/>
<g fill="none" stroke="#000000" stroke-width="4.0" stroke-linejoin="round">
<polyline points="93.8,675.8 94.3,675.7 94.8,675.6 95.3,675.5 95.8,675.4 96.3,675.3 96.8,675.2 97.3,675.1 97.8,675.1 98.3,675.0 98.8,674.9 99.3,674.9 99.8,674.8 100.3,674.8 100.8,674.7 101.3,674.7 101.8,674.7 102.3,674.7 102.8,674.6 103.3,674.6 103.8,674.6 104.3,674.6 104.8,674.6 105.3,674.6 105.8,674.6 106.3,674.6 106.8,674.6 107.3,674.6 107.8,674.6 108.3,674.6 108.8,674.6 109.3,674.6 109.8,674.7 110.3,674.7 110.8,674.7 111.3,674.7 111.8,674.7 112.3,674.7 112.8,674.7 113.3,674.7 113.8,674.7 114.3,674.8 114.8,674.8 115.3,674.8 115.8,674.8 116.3,674.8 116.8,674.8 117.3,674.8 117.8,674.8 118.3,674.9 118.8,674.9 119.3,674.9 119.8,674.9 120.3,674.9 120.8,674.9 121.3,674.9 121.8,675.0 122.3,675.0 122.8,675.0 123.3,675.0 123.8,675.0 124.3,675.0 124.8,675.0 125.3,675.1 125.8,675.1 126.3,675.1 126.8,675.1 127.3,675.1 127.8,675.1 128.3,675.1 128.8,675.2 129.3,675.2 129.8,675.2 130.0,675.2 131.5,675.2 133.0,675.3 134.5,675.3 136.0,675.4 137.5,675.4 139.0,675.5 140.5,675.5 142.0,675.6 143.5,675.6 145.0,675.6 146.5,675.7 148.0,675.7 149.5,675.8 151.0,675.8 152.5,675.8 154.0,675.9 155.5,675.9 157.0,676.0 158.5,676.0 160.0,676.0 161.5,676.1 163.0,676.1 164.5,676.1 166.0,676.1 167.5,676.2 169.0,676.2 170.5,676.2 172.0,676.2 173.5,676.2 175.0,676.3 176.5,676.3 178.0,676.3 179.5,676.3 181.0,676.3 182.5,676.3 184.0,676.3 185.5,676.4 187.0,676.4 188.5,676.4 190.0,676.4 191.5,676.4 193.0,676.4 194.5,676.4 196.0,676.4 197.5,676.4 199.0,676.3 200.5,676.3 202.0,676.3 203.5,676.3 205.0,676.3 206.5,676.3 208.0,676.3 209.5,676.2 211.0,676.2 212.5,676.2 214.0,676.2 215.5,676.1 217.0,676.1 218.5,676.1 220.0,676.0 221.5,676.0 223.0,675.9 224.5,675.9 226.0,675.9 227.5,675.8 229.0,675.8 230.5,675.7 232.0,675.7 233.5,675.6 235.0,675.5 236.5,675.5 238.0,675.4 239.5,675.3 241.0,675.3 242.5,675.2 244.0,675.1 245.5,675.1 247.0,675.0 248.5,674.9 250.0,674.8 251.5,674.7 253.0,674.7 254.5,674.6 256.0,674.5 257.5,674.4 259.0,674.3 260.5,674.2 262.0,674.1 263.5,674.0 265.0,673.9 266.5,673.8 268.0,673.7 269.5,673.6 271.0,673.5 272.5,673.4 274.0,673.2 275.5,673.1 277.0,673.0 278.5,672.9 280.0,672.8 281.5,672.6 283.0,672.5 284.5,672.4 286.0,672.3 287.5,672.1 289.0,672.0 290.5,671.9 292.0,671.7 293.5,671.6 295.0,671.4 296.5,671.3 298.0,671.2 299.5,671.0 301.0,670.9 302.5,670.7 304.0,670.6 305.5,670.4 307.0,670.3 308.5,670.1 310.0,669.9 311.5,669.8 313.0,669.6 314.5,669.5 316.0,669.3 317.5,669.1 319.0,669.0 320.5,668.8 322.0,668.6 323.5,668.5 325.0,668.3 326.5,668.1 328.0,667.9 329.5,667.8 331.0,667.6 332.5,667.4 334.0,667.2 335.5,667.0 337.0,666.8 338.5,666.7 340.0,666.5 341.5,666.3 343.0,666.1 344.5,665.9 346.0,665.7 347.5,665.5 349.0,665.3 350.5,665.1 352.0,664.9 353.5,664.7 355.0,664.5 356.5,664.3 358.0,664.1 359.5,663.9 361.0,663.7 362.5,663.5 364.0,663.3 365.5,663.1 367.0,662.8 368.5,662.6 370.0,662.4 371.5,662.2 373.0,662.0 374.5,661.8 376.0,661.6 377.5,661.3 379.0,661.1 380.5,660.9 382.0,660.7 383.5,660.4 385.0,660.2 386.5,660.0 388.0,659.8 389.5,659.5 391.0,659.3 392.5,659.1 394.0,658.8 395.5,658.6 397.0,658.4 398.5,658.1 400.0,657.9 401.5,657.7 403.0,657.4 404.5,657.2 406.0,657.0 407.5,656.7 409.0,656.5 410.5,656.2 412.0,656.0 413.5,655.8 415.0,655.5 416.5,655.3 418.0,655.0 419.5,654.8 421.0,654.5 422.5,654.3 424.0,654.0 425.5,653.8 427.0,653.5 428.5,653.3 430.0,653.0 431.5,652.8 433.0,652.5 434.5,652.3 436.0,652.0 437.5,651.7 439.0,651.5 440.5,651.2 442.0,651.0 443.5,650.7 445.0,650.4 446.5,650.2 448.0,649.9 449.5,649.6 451.0,649.4 452.5,649.1 454.0,648.8 455.5,648.6 457.0,648.3 458.5,648.0 460.0,647.7 461.5,647.5 463.0,647.2 464.5,646.9 466.0,646.6 467.5,646.4 469.0,646.1 470.5,645.8 472.0,645.5 473.5,645.2 475.0,645.0 476.5,644.7 478.0,644.4 479.5,644.1 481.0,643.8 482.5,643.5 484.0,643.2 485.5,643.0 487.0,642.7 488.5,642.4 490.0,642.1 491.5,641.8 493.0,641.5 494.5,641.2 496.0,640.9 497.5,640.6 499.0,640.3 500.5,640.0 502.0,639.7 503.5,639.4 505.0,639.1 506.5,638.8 508.0,638.5 509.5,638.2 511.0,637.9 512.5,637.6 514.0,637.3 515.5,636.9 517.0,636.6 518.5,636.3 520.0,636.0 521.5,635.7 523.0,635.4 524.5,635.1 526.0,634.7 527.5,634.4 529.0,634.1 530.5,633.8 532.0,633.5 533.5,633.1 535.0,632.8 536.5,632.5 538.0,632.2 539.5,631.8 541.0,631.5 542.5,631.2 544.0,630.8 545.5,630.5 547.0,630.2 548.5,629.8 550.0,629.5 551.5,629.2 553.0,628.8 554.5,628.5 556.0,628.1 557.5,627.8 559.0,627.5 560.5,627.1 562.0,626.8 563.5,626.4 565.0,626.1 566.5,625.7 568.0,625.4 569.5,625.0 571.0,624.7 572.5,624.3 574.0,624.0 575.5,623.6 577.0,623.3 578.5,622.9 580.0,622.6 581.5,622.2 583.0,621.8 584.5,621.5 586.0,621.1 587.5,620.8 589.0,620.4 590.5,620.0 592.0,619.7 593.5,619.3 595.0,618.9 596.5,618.5 598.0,618.2 599.5,617.8 601.0,617.4 602.5,617.1 604.0,616.7 605.5,616.3 607.0,615.9 608.5,615.5 610.0,615.2 611.5,614.8 613.0,614.4 614.5,614.0 616.0,613.6 617.5,613.2 619.0,612.9 620.5,612.5 622.0,612.1 623.5,611.7 625.0,611.3 626.5,610.9 628.0,610.5 629.5,610.1 631.0,609.7 632.5,609.3 634.0,608.9 635.5,608.5 637.0,608.1 638.5,607.7 640.0,607.3 641.5,606.9 643.0,606.5 644.5,606.1 646.0,605.7 647.5,605.2 649.0,604.8 650.5,604.4 652.0,604.0 653.5,603.6 655.0,603.2 656.5,602.8 658.0,602.3 659.5,601.9 661.0,601.5 662.5,601.1 664.0,600.6"/>
<polyline points="93.8,687.0 94.3,687.0 94.8,687.0 95.3,687.0 95.8,687.0 96.3,687.0 96.8,687.1 97.3,687.1 97.8,687.1 98.3,687.1 98.8,687.1 99.3,687.2 99.8,687.2 100.3,687.2 100.8,687.2 101.3,687.2 101.8,687.3 102.3,687.3 102.8,687.3 103.3,687.3 103.8,687.3 104.3,687.4 104.8,687.4 105.3,687.4 105.8,687.4 106.3,687.4 106.8,687.4 107.3,687.5 107.8,687.5 108.3,687.5 108.8,687.5 109.3,687.5 109.8,687.6 110.3,687.6 110.8,687.6 111.3,687.6 111.8,687.6 112.3,687.6 112.8,687.7 113.3,687.7 113.8,687.7 114.3,687.7 114.8,687.7 115.3,687.7 115.8,687.8 116.3,687.8 116.8,687.8 117.3,687.8 117.8,687.8 118.3,687.8 118.8,687.9 119.3,687.9 119.8,687.9 120.3,687.9 120.8,687.9 121.3,687.9 121.8,688.0 122.3,688.0 122.8,688.0 123.3,688.0 123.8,688.0 124.3,688.1 124.8,688.1 125.3,688.1 125.8,688.1 126.3,688.1 126.8,688.1 127.3,688.2 127.8,688.2 128.3,688.2 128.8,688.2 129.3,688.2 129.8,688.2 130.0,688.2 131.5,688.3 133.0,688.4 134.5,688.4 136.0,688.5 137.5,688.5 139.0,688.6 140.5,688.6 142.0,688.7 143.5,688.8 145.0,688.8 146.5,688.9 148.0,689.0 149.5,689.0 151.0,689.1 152.5,689.2 154.0,689.2 155.5,689.3 157.0,689.4 158.5,689.5 160.0,689.6 161.5,689.6 163.0,689.7 164.5,689.8 166.0,689.9 167.5,690.0 169.0,690.1 170.5,690.2 172.0,690.3 173.5,690.4 175.0,690.5 176.5,690.6 178.0,690.8 179.5,690.9 181.0,691.0 182.5,691.1 184.0,691.2 185.5,691.4 187.0,691.5 188.5,691.7 190.0,691.8 191.5,692.0 193.0,692.1 194.5,692.3 196.0,692.4 197.5,692.6 199.0,692.8 200.5,692.9 202.0,693.1 203.5,693.3 205.0,693.5 206.5,693.7 208.0,693.9 209.5,694.1 211.0,694.3 212.5,694.5 214.0,694.7 215.5,694.9 217.0,695.1 218.5,695.3 220.0,695.6 221.5,695.8 223.0,696.0 224.5,696.3 226.0,696.5 227.5,696.8 229.0,697.0 230.5,697.3 232.0,697.5 233.5,697.8 235.0,698.1 236.5,698.3 238.0,698.6 239.5,698.9 241.0,699.2 242.5,699.4 244.0,699.7 245.5,700.0 247.0,700.3 248.5,700.6 250.0,700.9 251.5,701.2 253.0,701.5 254.5,701.8 256.0,702.1 257.5,702.5 259.0,702.8 260.5,703.1 262.0,703.4 263.5,703.7 265.0,704.1 266.5,704.4 268.0,704.7 269.5,705.1 271.0,705.4 272.5,705.7 274.0,706.1 275.5,706.4 277.0,706.8 278.5,707.1 280.0,707.5 281.5,707.8 283.0,708.2 284.5,708.5 286.0,708.9 287.5,709.3 289.0,709.6 290.5,710.0 292.0,710.4 293.5,710.7 295.0,711.1 296.5,711.5 298.0,711.9 299.5,712.2 301.0,712.6 302.5,713.0 304.0,713.4 305.5,713.8 307.0,714.1 308.5,714.5 310.0,714.9 311.5,715.3 313.0,715.7 314.5,716.1 316.0,716.5 317.5,716.9 319.0,717.3 320.5,717.7 322.0,718.0 323.5,718.4 325.0,718.8 326.5,719.2 328.0,719.6 329.5,720.0 331.0,720.4 332.5,720.8 334.0,721.2 335.5,721.7 337.0,722.1 338.5,722.5 340.0,722.9 341.5,723.3 343.0,723.7 344.5,724.1 346.0,724.5 347.5,724.9 349.0,725.3 350.5,725.7 352.0,726.1 353.5,726.5 355.0,727.0 356.5,727.4 358.0,727.8 359.5,728.2 361.0,728.6 362.5,729.0 364.0,729.4 365.5,729.9 367.0,730.3 368.5,730.7 370.0,731.1 371.5,731.5 373.0,731.9 374.5,732.4 376.0,732.8 377.5,733.2 379.0,733.6 380.5,734.0 382.0,734.5 383.5,734.9 385.0,735.3 386.5,735.7 388.0,736.1 389.5,736.6 391.0,737.0 392.5,737.4 394.0,737.8 395.5,738.3 397.0,738.7 398.5,739.1 400.0,739.5 401.5,740.0 403.0,740.4 404.5,740.8 406.0,741.2 407.5,741.7 409.0,742.1 410.5,742.5 412.0,743.0 413.5,743.4 415.0,743.8 416.5,744.2 418.0,744.7 419.5,745.1 421.0,745.5 422.5,746.0 424.0,746.4 425.5,746.8 427.0,747.2 428.5,747.7 430.0,748.1 431.5,748.5 433.0,749.0 434.5,749.4 436.0,749.8 437.5,750.3 439.0,750.7 440.5,751.1 442.0,751.6 443.5,752.0 445.0,752.4 446.5,752.8 448.0,753.3 449.5,753.7 451.0,754.1 452.5,754.6 454.0,755.0 455.5,755.4 457.0,755.9 458.5,756.3 460.0,756.7 461.5,757.2 463.0,757.6 464.5,758.0 466.0,758.5 467.5,758.9 469.0,759.3 470.5,759.8 472.0,760.2 473.5,760.6 475.0,761.1 476.5,761.5 478.0,761.9 479.5,762.3 481.0,762.8 482.5,763.2 484.0,763.6 485.5,764.1 487.0,764.5 488.5,764.9 490.0,765.4 491.5,765.8 493.0,766.2 494.5,766.6 496.0,767.1 497.5,767.5 499.0,767.9 500.5,768.4 502.0,768.8 503.5,769.2 505.0,769.6 506.5,770.1 508.0,770.5 509.5,770.9 511.0,771.3 512.5,771.8 514.0,772.2 515.5,772.6 517.0,773.0 518.5,773.5 520.0,773.9 521.5,774.3 523.0,774.7 524.5,775.1 526.0,775.6 527.5,776.0 529.0,776.4 530.5,776.8 532.0,777.2 533.5,777.6 535.0,778.0 536.5,778.5 538.0,778.9 539.5,779.3 541.0,779.7 542.5,780.1 544.0,780.5 545.5,780.9 547.0,781.3 548.5,781.7 550.0,782.1 551.5,782.5 553.0,782.9 554.5,783.3 556.0,783.8 557.5,784.2 559.0,784.5 560.5,784.9 562.0,785.3 563.5,785.7 565.0,786.1 566.5,786.5 568.0,786.9 569.5,787.3 571.0,787.7 572.5,788.1 574.0,788.5 575.5,788.9 577.0,789.2 578.5,789.6 580.0,790.0 581.5,790.4 583.0,790.8 584.5,791.1 586.0,791.5 587.5,791.9 589.0,792.3 590.5,792.6 592.0,793.0 593.5,793.4 595.0,793.7 596.5,794.1 598.0,794.5 599.5,794.8 601.0,795.2 602.5,795.6 604.0,795.9 605.5,796.3 607.0,796.6 608.5,797.0 610.0,797.3 611.5,797.7 613.0,798.0 614.5,798.4 616.0,798.7 617.5,799.1 619.0,799.4 620.5,799.7 622.0,800.1 623.5,800.4 625.0,800.7 626.5,801.1 628.0,801.4 629.5,801.7 631.0,802.0 632.5,802.4 634.0,802.7 635.5,803.0 637.0,803.3 638.5,803.6 640.0,804.0 641.5,804.3 643.0,804.6 644.5,804.9 646.0,805.2 647.5,805.5 649.0,805.8 650.5,806.1 652.0,806.4 653.5,806.7 655.0,807.0 656.5,807.2 658.0,807.5 659.5,807.8 661.0,808.1 662.5,808.4 664.0,808.7"/>
<path d="M91.85,679.55H664.2" stroke="#000000" stroke-width="4.0"/>
</g>
<g fill="none" stroke="#fd5d08" stroke-width="4.0" stroke-linejoin="round">
<polyline points="93.8,543.5 94.3,543.5 94.8,543.5 95.3,543.5 95.8,543.5 96.3,543.5 96.8,543.5 97.3,543.6 97.8,543.6 98.3,543.6 98.8,543.6 99.3,543.6 99.8,543.6 100.3,543.6 100.8,543.6 101.3,543.6 101.8,543.6 102.3,543.6 102.8,543.6 103.3,543.7 103.8,543.7 104.3,543.7 104.8,543.7 105.3,543.7 105.8,543.7 106.3,543.7 106.8,543.7 107.3,543.7 107.8,543.7 108.3,543.7 108.8,543.7 109.3,543.7 109.8,543.7 110.3,543.7 110.8,543.7 111.3,543.7 111.8,543.7 112.3,543.7 112.8,543.7 113.3,543.7 113.8,543.8 114.3,543.8 114.8,543.8 115.3,543.8 115.8,543.8 116.3,543.8 116.8,543.8 117.3,543.8 117.8,543.8 118.3,543.8 118.8,543.8 119.3,543.8 119.8,543.8 120.3,543.8 120.8,543.8 121.3,543.8 121.8,543.8 122.3,543.8 122.8,543.8 123.3,543.8 123.8,543.8 124.3,543.8 124.8,543.8 125.3,543.7 125.8,543.7 126.3,543.7 126.8,543.7 127.3,543.7 127.8,543.7 128.3,543.7 128.8,543.7 129.3,543.7 129.8,543.7 130.0,543.7 131.5,543.7 133.0,543.7 134.5,543.7 136.0,543.7 137.5,543.6 139.0,543.6 140.5,543.6 142.0,543.6 143.5,543.5 145.0,543.5 146.5,543.5 148.0,543.4 149.5,543.4 151.0,543.4 152.5,543.3 154.0,543.3 155.5,543.3 157.0,543.2 158.5,543.2 160.0,543.1 161.5,543.1 163.0,543.1 164.5,543.0 166.0,543.0 167.5,542.9 169.0,542.9 170.5,542.8 172.0,542.8 173.5,542.7 175.0,542.6 176.5,542.6 178.0,542.5 179.5,542.5 181.0,542.4 182.5,542.4 184.0,542.3 185.5,542.2 187.0,542.2 188.5,542.1 190.0,542.0 191.5,542.0 193.0,541.9 194.5,541.8 196.0,541.8 197.5,541.7 199.0,541.6 200.5,541.5 202.0,541.5 203.5,541.4 205.0,541.3 206.5,541.2 208.0,541.2 209.5,541.1 211.0,541.0 212.5,540.9 214.0,540.9 215.5,540.8 217.0,540.7 218.5,540.6 220.0,540.5 221.5,540.4 223.0,540.4 224.5,540.3 226.0,540.2 227.5,540.1 229.0,540.0 230.5,539.9 232.0,539.8 233.5,539.7 235.0,539.7 236.5,539.6 238.0,539.5 239.5,539.4 241.0,539.3 242.5,539.2 244.0,539.1 245.5,539.0 247.0,538.9 248.5,538.8 250.0,538.7 251.5,538.6 253.0,538.5 254.5,538.4 256.0,538.3 257.5,538.2 259.0,538.1 260.5,538.0 262.0,537.9 263.5,537.8 265.0,537.6 266.5,537.5 268.0,537.4 269.5,537.3 271.0,537.2 272.5,537.1 274.0,537.0 275.5,536.9 277.0,536.8 278.5,536.6 280.0,536.5 281.5,536.4 283.0,536.3 284.5,536.2 286.0,536.0 287.5,535.9 289.0,535.8 290.5,535.7 292.0,535.5 293.5,535.4 295.0,535.3 296.5,535.2 298.0,535.0 299.5,534.9 301.0,534.8 302.5,534.7 304.0,534.5 305.5,534.4 307.0,534.3 308.5,534.1 310.0,534.0 311.5,533.9 313.0,533.7 314.5,533.6 316.0,533.4 317.5,533.3 319.0,533.2 320.5,533.0 322.0,532.9 323.5,532.7 325.0,532.6 326.5,532.4 328.0,532.3 329.5,532.2 331.0,532.0 332.5,531.9 334.0,531.7 335.5,531.6 337.0,531.4 338.5,531.3 340.0,531.1 341.5,530.9 343.0,530.8 344.5,530.6 346.0,530.5 347.5,530.3 349.0,530.2 350.5,530.0 352.0,529.8 353.5,529.7 355.0,529.5 356.5,529.4 358.0,529.2 359.5,529.0 361.0,528.9 362.5,528.7 364.0,528.5 365.5,528.4 367.0,528.2 368.5,528.0 370.0,527.9 371.5,527.7 373.0,527.5 374.5,527.3 376.0,527.2 377.5,527.0 379.0,526.8 380.5,526.6 382.0,526.4 383.5,526.3 385.0,526.1 386.5,525.9 388.0,525.7 389.5,525.5 391.0,525.3 392.5,525.2 394.0,525.0 395.5,524.8 397.0,524.6 398.5,524.4 400.0,524.2 401.5,524.0 403.0,523.8 404.5,523.6 406.0,523.4 407.5,523.3 409.0,523.1 410.5,522.9 412.0,522.7 413.5,522.5 415.0,522.3 416.5,522.1 418.0,521.9 419.5,521.7 421.0,521.4 422.5,521.2 424.0,521.0 425.5,520.8 427.0,520.6 428.5,520.4 430.0,520.2 431.5,520.0 433.0,519.8 434.5,519.6 436.0,519.3 437.5,519.1 439.0,518.9 440.5,518.7 442.0,518.5 443.5,518.3 445.0,518.0 446.5,517.8 448.0,517.6 449.5,517.4 451.0,517.1 452.5,516.9 454.0,516.7 455.5,516.5 457.0,516.2 458.5,516.0 460.0,515.8 461.5,515.5 463.0,515.3 464.5,515.1 466.0,514.8 467.5,514.6 469.0,514.4 470.5,514.1 472.0,513.9 473.5,513.7 475.0,513.4 476.5,513.2 478.0,512.9 479.5,512.7 481.0,512.4 482.5,512.2 484.0,512.0 485.5,511.7 487.0,511.5 488.5,511.2 490.0,511.0 491.5,510.7 493.0,510.4 494.5,510.2 496.0,509.9 497.5,509.7 499.0,509.4 500.5,509.2 502.0,508.9 503.5,508.7 505.0,508.4 506.5,508.1 508.0,507.9 509.5,507.6 511.0,507.3 512.5,507.1 514.0,506.8 515.5,506.5 517.0,506.3 518.5,506.0 520.0,505.7 521.5,505.5 523.0,505.2 524.5,504.9 526.0,504.7 527.5,504.4 529.0,504.1 530.5,503.8 532.0,503.6 533.5,503.3 535.0,503.0 536.5,502.7 538.0,502.5 539.5,502.2 541.0,501.9 542.5,501.6 544.0,501.4 545.5,501.1 547.0,500.8 548.5,500.5 550.0,500.2 551.5,500.0 553.0,499.7 554.5,499.4 556.0,499.1 557.5,498.8 559.0,498.5 560.5,498.3 562.0,498.0 563.5,497.7 565.0,497.4 566.5,497.1 568.0,496.8 569.5,496.5 571.0,496.3 572.5,496.0 574.0,495.7 575.5,495.4 577.0,495.1 578.5,494.8 580.0,494.5 581.5,494.2 583.0,493.9 584.5,493.7 586.0,493.4 587.5,493.1 589.0,492.8 590.5,492.5 592.0,492.2 593.5,491.9 595.0,491.6 596.5,491.3 598.0,491.0 599.5,490.7 601.0,490.4 602.5,490.1 604.0,489.9 605.5,489.6 607.0,489.3 608.5,489.0 610.0,488.7 611.5,488.4 613.0,488.1 614.5,487.8 616.0,487.5 617.5,487.2 619.0,486.9 620.5,486.6 622.0,486.3 623.5,486.0 625.0,485.7 626.5,485.5 628.0,485.2 629.5,484.9 631.0,484.6 632.5,484.3 634.0,484.0 635.5,483.7 637.0,483.4 638.5,483.1 640.0,482.8 641.5,482.5 643.0,482.2 644.5,481.9 646.0,481.6 647.5,481.4 649.0,481.1 650.5,480.8 652.0,480.5 653.5,480.2 655.0,479.9 656.5,479.6 658.0,479.3 659.5,479.0 661.0,478.7 662.5,478.4 664.0,478.2"/>
<polyline points="93.8,550.6 94.3,550.6 94.8,550.6 95.3,550.6 95.8,550.6 96.3,550.6 96.8,550.6 97.3,550.6 97.8,550.6 98.3,550.6 98.8,550.6 99.3,550.6 99.8,550.6 100.3,550.7 100.8,550.7 101.3,550.7 101.8,550.7 102.3,550.7 102.8,550.7 103.3,550.7 103.8,550.7 104.3,550.7 104.8,550.7 105.3,550.7 105.8,550.7 106.3,550.7 106.8,550.7 107.3,550.7 107.8,550.7 108.3,550.7 108.8,550.7 109.3,550.7 109.8,550.7 110.3,550.8 110.8,550.8 111.3,550.8 111.8,550.8 112.3,550.8 112.8,550.8 113.3,550.8 113.8,550.8 114.3,550.8 114.8,550.8 115.3,550.8 115.8,550.8 116.3,550.8 116.8,550.8 117.3,550.8 117.8,550.8 118.3,550.8 118.8,550.8 119.3,550.8 119.8,550.8 120.3,550.8 120.8,550.9 121.3,550.9 121.8,550.9 122.3,550.9 122.8,550.9 123.3,550.9 123.8,550.9 124.3,550.9 124.8,550.9 125.3,550.9 125.8,550.9 126.3,550.9 126.8,550.9 127.3,550.9 127.8,550.9 128.3,550.9 128.8,550.9 129.3,550.9 129.8,550.9 130.0,550.9 131.5,551.0 133.0,551.0 134.5,551.0 136.0,551.0 137.5,551.0 139.0,551.1 140.5,551.1 142.0,551.1 143.5,551.1 145.0,551.1 146.5,551.1 148.0,551.2 149.5,551.2 151.0,551.2 152.5,551.2 154.0,551.3 155.5,551.3 157.0,551.3 158.5,551.3 160.0,551.4 161.5,551.4 163.0,551.4 164.5,551.5 166.0,551.5 167.5,551.5 169.0,551.6 170.5,551.6 172.0,551.6 173.5,551.7 175.0,551.7 176.5,551.7 178.0,551.8 179.5,551.8 181.0,551.9 182.5,551.9 184.0,551.9 185.5,552.0 187.0,552.0 188.5,552.1 190.0,552.1 191.5,552.2 193.0,552.2 194.5,552.3 196.0,552.4 197.5,552.4 199.0,552.5 200.5,552.5 202.0,552.6 203.5,552.7 205.0,552.7 206.5,552.8 208.0,552.9 209.5,552.9 211.0,553.0 212.5,553.1 214.0,553.2 215.5,553.2 217.0,553.3 218.5,553.4 220.0,553.5 221.5,553.6 223.0,553.7 224.5,553.7 226.0,553.8 227.5,553.9 229.0,554.0 230.5,554.1 232.0,554.2 233.5,554.3 235.0,554.4 236.5,554.5 238.0,554.6 239.5,554.7 241.0,554.8 242.5,554.9 244.0,555.0 245.5,555.1 247.0,555.2 248.5,555.3 250.0,555.5 251.5,555.6 253.0,555.7 254.5,555.8 256.0,555.9 257.5,556.0 259.0,556.2 260.5,556.3 262.0,556.4 263.5,556.5 265.0,556.7 266.5,556.8 268.0,556.9 269.5,557.1 271.0,557.2 272.5,557.3 274.0,557.5 275.5,557.6 277.0,557.8 278.5,557.9 280.0,558.0 281.5,558.2 283.0,558.3 284.5,558.5 286.0,558.6 287.5,558.8 289.0,558.9 290.5,559.1 292.0,559.2 293.5,559.4 295.0,559.6 296.5,559.7 298.0,559.9 299.5,560.0 301.0,560.2 302.5,560.4 304.0,560.5 305.5,560.7 307.0,560.9 308.5,561.0 310.0,561.2 311.5,561.4 313.0,561.6 314.5,561.7 316.0,561.9 317.5,562.1 319.0,562.3 320.5,562.5 322.0,562.6 323.5,562.8 325.0,563.0 326.5,563.2 328.0,563.4 329.5,563.6 331.0,563.8 332.5,564.0 334.0,564.2 335.5,564.3 337.0,564.5 338.5,564.7 340.0,564.9 341.5,565.1 343.0,565.3 344.5,565.5 346.0,565.7 347.5,566.0 349.0,566.2 350.5,566.4 352.0,566.6 353.5,566.8 355.0,567.0 356.5,567.2 358.0,567.4 359.5,567.6 361.0,567.8 362.5,568.1 364.0,568.3 365.5,568.5 367.0,568.7 368.5,568.9 370.0,569.1 371.5,569.4 373.0,569.6 374.5,569.8 376.0,570.0 377.5,570.2 379.0,570.5 380.5,570.7 382.0,570.9 383.5,571.1 385.0,571.4 386.5,571.6 388.0,571.8 389.5,572.1 391.0,572.3 392.5,572.5 394.0,572.7 395.5,573.0 397.0,573.2 398.5,573.4 400.0,573.7 401.5,573.9 403.0,574.1 404.5,574.4 406.0,574.6 407.5,574.8 409.0,575.1 410.5,575.3 412.0,575.6 413.5,575.8 415.0,576.0 416.5,576.3 418.0,576.5 419.5,576.7 421.0,577.0 422.5,577.2 424.0,577.5 425.5,577.7 427.0,577.9 428.5,578.2 430.0,578.4 431.5,578.7 433.0,578.9 434.5,579.1 436.0,579.4 437.5,579.6 439.0,579.9 440.5,580.1 442.0,580.4 443.5,580.6 445.0,580.8 446.5,581.1 448.0,581.3 449.5,581.6 451.0,581.8 452.5,582.0 454.0,582.3 455.5,582.5 457.0,582.8 458.5,583.0 460.0,583.2 461.5,583.5 463.0,583.7 464.5,584.0 466.0,584.2 467.5,584.5 469.0,584.7 470.5,584.9 472.0,585.2 473.5,585.4 475.0,585.7 476.5,585.9 478.0,586.1 479.5,586.4 481.0,586.6 482.5,586.8 484.0,587.1 485.5,587.3 487.0,587.6 488.5,587.8 490.0,588.0 491.5,588.3 493.0,588.5 494.5,588.7 496.0,589.0 497.5,589.2 499.0,589.4 500.5,589.7 502.0,589.9 503.5,590.1 505.0,590.4 506.5,590.6 508.0,590.8 509.5,591.1 511.0,591.3 512.5,591.5 514.0,591.8 515.5,592.0 517.0,592.2 518.5,592.4 520.0,592.7 521.5,592.9 523.0,593.1 524.5,593.4 526.0,593.6 527.5,593.8 529.0,594.0 530.5,594.3 532.0,594.5 533.5,594.7 535.0,594.9 536.5,595.2 538.0,595.4 539.5,595.6 541.0,595.8 542.5,596.1 544.0,596.3 545.5,596.5 547.0,596.7 548.5,597.0 550.0,597.2 551.5,597.4 553.0,597.6 554.5,597.9 556.0,598.1 557.5,598.3 559.0,598.5 560.5,598.7 562.0,599.0 563.5,599.2 565.0,599.4 566.5,599.6 568.0,599.8 569.5,600.1 571.0,600.3 572.5,600.5 574.0,600.7 575.5,600.9 577.0,601.1 578.5,601.4 580.0,601.6 581.5,601.8 583.0,602.0 584.5,602.2 586.0,602.4 587.5,602.7 589.0,602.9 590.5,603.1 592.0,603.3 593.5,603.5 595.0,603.7 596.5,603.9 598.0,604.1 599.5,604.4 601.0,604.6 602.5,604.8 604.0,605.0 605.5,605.2 607.0,605.4 608.5,605.6 610.0,605.8 611.5,606.0 613.0,606.3 614.5,606.5 616.0,606.7 617.5,606.9 619.0,607.1 620.5,607.3 622.0,607.5 623.5,607.7 625.0,607.9 626.5,608.1 628.0,608.3 629.5,608.5 631.0,608.8 632.5,609.0 634.0,609.2 635.5,609.4 637.0,609.6 638.5,609.8 640.0,610.0 641.5,610.2 643.0,610.4 644.5,610.6 646.0,610.8 647.5,611.0 649.0,611.2 650.5,611.4 652.0,611.6 653.5,611.8 655.0,612.0 656.5,612.2 658.0,612.4 659.5,612.6 661.0,612.8 662.5,613.0 664.0,613.2"/>
<path d="M91.85,547.00H664.2" stroke="#fd5d08" stroke-width="4.0"/>
</g>
<g fill="none" stroke="#8ab505" stroke-width="4.0" stroke-linejoin="round">
<polyline points="93.8,408.0 94.3,407.8 94.8,407.6 95.3,407.4 95.8,407.3 96.3,407.2 96.8,407.1 97.3,407.0 97.8,407.0 98.3,406.9 98.8,406.9 99.3,406.8 99.8,406.8 100.3,406.7 100.8,406.7 101.3,406.7 101.8,406.7 102.3,406.6 102.8,406.6 103.3,406.6 103.8,406.6 104.3,406.6 104.8,406.5 105.3,406.5 105.8,406.5 106.3,406.5 106.8,406.5 107.3,406.5 107.8,406.5 108.3,406.4 108.8,406.4 109.3,406.4 109.8,406.4 110.3,406.4 110.8,406.4 111.3,406.4 111.8,406.3 112.3,406.3 112.8,406.3 113.3,406.3 113.8,406.3 114.3,406.3 114.8,406.3 115.3,406.3 115.8,406.3 116.3,406.2 116.8,406.2 117.3,406.2 117.8,406.2 118.3,406.2 118.8,406.2 119.3,406.2 119.8,406.2 120.3,406.2 120.8,406.2 121.3,406.2 121.8,406.1 122.3,406.1 122.8,406.1 123.3,406.1 123.8,406.1 124.3,406.1 124.8,406.1 125.3,406.1 125.8,406.1 126.3,406.1 126.8,406.1 127.3,406.1 127.8,406.1 128.3,406.1 128.8,406.1 129.3,406.1 129.8,406.1 130.0,406.1 131.5,406.0 133.0,406.0 134.5,406.0 136.0,406.0 137.5,406.0 139.0,406.0 140.5,406.0 142.0,406.0 143.5,406.0 145.0,406.0 146.5,406.0 148.0,406.0 149.5,406.0 151.0,406.0 152.5,406.0 154.0,406.1 155.5,406.1 157.0,406.1 158.5,406.1 160.0,406.1 161.5,406.1 163.0,406.1 164.5,406.1 166.0,406.2 167.5,406.2 169.0,406.2 170.5,406.2 172.0,406.2 173.5,406.3 175.0,406.3 176.5,406.3 178.0,406.3 179.5,406.3 181.0,406.4 182.5,406.4 184.0,406.4 185.5,406.4 187.0,406.4 188.5,406.5 190.0,406.5 191.5,406.5 193.0,406.5 194.5,406.5 196.0,406.6 197.5,406.6 199.0,406.6 200.5,406.6 202.0,406.6 203.5,406.7 205.0,406.7 206.5,406.7 208.0,406.7 209.5,406.7 211.0,406.7 212.5,406.8 214.0,406.8 215.5,406.8 217.0,406.8 218.5,406.8 220.0,406.8 221.5,406.8 223.0,406.8 224.5,406.8 226.0,406.8 227.5,406.8 229.0,406.8 230.5,406.7 232.0,406.7 233.5,406.7 235.0,406.7 236.5,406.6 238.0,406.6 239.5,406.6 241.0,406.5 242.5,406.5 244.0,406.4 245.5,406.4 247.0,406.3 248.5,406.2 250.0,406.2 251.5,406.1 253.0,406.0 254.5,405.9 256.0,405.9 257.5,405.8 259.0,405.7 260.5,405.5 262.0,405.4 263.5,405.3 265.0,405.2 266.5,405.1 268.0,405.0 269.5,404.8 271.0,404.7 272.5,404.5 274.0,404.4 275.5,404.3 277.0,404.1 278.5,404.0 280.0,403.8 281.5,403.6 283.0,403.5 284.5,403.3 286.0,403.1 287.5,403.0 289.0,402.8 290.5,402.6 292.0,402.5 293.5,402.3 295.0,402.1 296.5,401.9 298.0,401.8 299.5,401.6 301.0,401.4 302.5,401.2 304.0,401.1 305.5,400.9 307.0,400.7 308.5,400.5 310.0,400.3 311.5,400.2 313.0,400.0 314.5,399.8 316.0,399.6 317.5,399.4 319.0,399.3 320.5,399.1 322.0,398.9 323.5,398.7 325.0,398.5 326.5,398.3 328.0,398.2 329.5,398.0 331.0,397.8 332.5,397.6 334.0,397.4 335.5,397.2 337.0,397.0 338.5,396.9 340.0,396.7 341.5,396.5 343.0,396.3 344.5,396.1 346.0,395.9 347.5,395.7 349.0,395.5 350.5,395.3 352.0,395.1 353.5,394.9 355.0,394.7 356.5,394.5 358.0,394.3 359.5,394.2 361.0,394.0 362.5,393.8 364.0,393.6 365.5,393.4 367.0,393.2 368.5,393.0 370.0,392.7 371.5,392.5 373.0,392.3 374.5,392.1 376.0,391.9 377.5,391.7 379.0,391.5 380.5,391.3 382.0,391.1 383.5,390.9 385.0,390.7 386.5,390.5 388.0,390.3 389.5,390.0 391.0,389.8 392.5,389.6 394.0,389.4 395.5,389.2 397.0,389.0 398.5,388.7 400.0,388.5 401.5,388.3 403.0,388.1 404.5,387.9 406.0,387.6 407.5,387.4 409.0,387.2 410.5,387.0 412.0,386.7 413.5,386.5 415.0,386.3 416.5,386.0 418.0,385.8 419.5,385.6 421.0,385.3 422.5,385.1 424.0,384.9 425.5,384.6 427.0,384.4 428.5,384.2 430.0,383.9 431.5,383.7 433.0,383.4 434.5,383.2 436.0,383.0 437.5,382.7 439.0,382.5 440.5,382.2 442.0,382.0 443.5,381.7 445.0,381.5 446.5,381.2 448.0,381.0 449.5,380.7 451.0,380.5 452.5,380.2 454.0,380.0 455.5,379.7 457.0,379.5 458.5,379.2 460.0,378.9 461.5,378.7 463.0,378.4 464.5,378.2 466.0,377.9 467.5,377.6 469.0,377.4 470.5,377.1 472.0,376.9 473.5,376.6 475.0,376.3 476.5,376.1 478.0,375.8 479.5,375.5 481.0,375.3 482.5,375.0 484.0,374.7 485.5,374.5 487.0,374.2 488.5,373.9 490.0,373.7 491.5,373.4 493.0,373.1 494.5,372.8 496.0,372.6 497.5,372.3 499.0,372.0 500.5,371.7 502.0,371.5 503.5,371.2 505.0,370.9 506.5,370.6 508.0,370.4 509.5,370.1 511.0,369.8 512.5,369.5 514.0,369.3 515.5,369.0 517.0,368.7 518.5,368.4 520.0,368.2 521.5,367.9 523.0,367.6 524.5,367.3 526.0,367.0 527.5,366.8 529.0,366.5 530.5,366.2 532.0,365.9 533.5,365.6 535.0,365.4 536.5,365.1 538.0,364.8 539.5,364.5 541.0,364.2 542.5,363.9 544.0,363.7 545.5,363.4 547.0,363.1 548.5,362.8 550.0,362.5 551.5,362.2 553.0,362.0 554.5,361.7 556.0,361.4 557.5,361.1 559.0,360.8 560.5,360.5 562.0,360.3 563.5,360.0 565.0,359.7 566.5,359.4 568.0,359.1 569.5,358.9 571.0,358.6 572.5,358.3 574.0,358.0 575.5,357.7 577.0,357.4 578.5,357.2 580.0,356.9 581.5,356.6 583.0,356.3 584.5,356.0 586.0,355.7 587.5,355.5 589.0,355.2 590.5,354.9 592.0,354.6 593.5,354.3 595.0,354.1 596.5,353.8 598.0,353.5 599.5,353.2 601.0,352.9 602.5,352.7 604.0,352.4 605.5,352.1 607.0,351.8 608.5,351.6 610.0,351.3 611.5,351.0 613.0,350.7 614.5,350.4 616.0,350.2 617.5,349.9 619.0,349.6 620.5,349.3 622.0,349.1 623.5,348.8 625.0,348.5 626.5,348.3 628.0,348.0 629.5,347.7 631.0,347.4 632.5,347.2 634.0,346.9 635.5,346.6 637.0,346.4 638.5,346.1 640.0,345.8 641.5,345.6 643.0,345.3 644.5,345.0 646.0,344.8 647.5,344.5 649.0,344.2 650.5,344.0 652.0,343.7 653.5,343.4 655.0,343.2 656.5,342.9 658.0,342.7 659.5,342.4 661.0,342.1 662.5,341.9 664.0,341.6"/>
<polyline points="93.8,424.5 94.3,424.7 94.8,425.0 95.3,425.3 95.8,425.7 96.3,426.1 96.8,426.4 97.3,426.7 97.8,427.0 98.3,427.3 98.8,427.5 99.3,427.6 99.8,427.8 100.3,427.9 100.8,428.0 101.3,428.0 101.8,428.1 102.3,428.1 102.8,428.1 103.3,428.2 103.8,428.2 104.3,428.2 104.8,428.2 105.3,428.2 105.8,428.2 106.3,428.2 106.8,428.3 107.3,428.3 107.8,428.3 108.3,428.3 108.8,428.3 109.3,428.3 109.8,428.4 110.3,428.4 110.8,428.4 111.3,428.4 111.8,428.5 112.3,428.5 112.8,428.5 113.3,428.5 113.8,428.5 114.3,428.6 114.8,428.6 115.3,428.6 115.8,428.6 116.3,428.7 116.8,428.7 117.3,428.7 117.8,428.7 118.3,428.7 118.8,428.8 119.3,428.8 119.8,428.8 120.3,428.8 120.8,428.9 121.3,428.9 121.8,428.9 122.3,428.9 122.8,429.0 123.3,429.0 123.8,429.0 124.3,429.0 124.8,429.1 125.3,429.1 125.8,429.1 126.3,429.1 126.8,429.2 127.3,429.2 127.8,429.2 128.3,429.2 128.8,429.3 129.3,429.3 129.8,429.3 130.0,429.3 131.5,429.4 133.0,429.5 134.5,429.5 136.0,429.6 137.5,429.6 139.0,429.7 140.5,429.8 142.0,429.8 143.5,429.9 145.0,429.9 146.5,430.0 148.0,430.0 149.5,430.1 151.0,430.1 152.5,430.2 154.0,430.2 155.5,430.2 157.0,430.3 158.5,430.3 160.0,430.4 161.5,430.4 163.0,430.4 164.5,430.5 166.0,430.5 167.5,430.6 169.0,430.6 170.5,430.6 172.0,430.7 173.5,430.7 175.0,430.7 176.5,430.8 178.0,430.8 179.5,430.8 181.0,430.9 182.5,430.9 184.0,430.9 185.5,430.9 187.0,431.0 188.5,431.0 190.0,431.0 191.5,431.1 193.0,431.1 194.5,431.1 196.0,431.2 197.5,431.2 199.0,431.2 200.5,431.3 202.0,431.3 203.5,431.3 205.0,431.4 206.5,431.4 208.0,431.5 209.5,431.5 211.0,431.5 212.5,431.6 214.0,431.6 215.5,431.7 217.0,431.7 218.5,431.8 220.0,431.8 221.5,431.9 223.0,431.9 224.5,432.0 226.0,432.0 227.5,432.1 229.0,432.1 230.5,432.2 232.0,432.3 233.5,432.3 235.0,432.4 236.5,432.5 238.0,432.5 239.5,432.6 241.0,432.7 242.5,432.7 244.0,432.8 245.5,432.9 247.0,433.0 248.5,433.1 250.0,433.2 251.5,433.3 253.0,433.3 254.5,433.4 256.0,433.5 257.5,433.6 259.0,433.7 260.5,433.9 262.0,434.0 263.5,434.1 265.0,434.2 266.5,434.3 268.0,434.4 269.5,434.6 271.0,434.7 272.5,434.8 274.0,434.9 275.5,435.1 277.0,435.2 278.5,435.3 280.0,435.5 281.5,435.6 283.0,435.7 284.5,435.9 286.0,436.0 287.5,436.2 289.0,436.3 290.5,436.5 292.0,436.6 293.5,436.8 295.0,436.9 296.5,437.1 298.0,437.2 299.5,437.4 301.0,437.5 302.5,437.7 304.0,437.9 305.5,438.0 307.0,438.2 308.5,438.3 310.0,438.5 311.5,438.7 313.0,438.8 314.5,439.0 316.0,439.2 317.5,439.3 319.0,439.5 320.5,439.7 322.0,439.8 323.5,440.0 325.0,440.2 326.5,440.3 328.0,440.5 329.5,440.7 331.0,440.9 332.5,441.0 334.0,441.2 335.5,441.4 337.0,441.6 338.5,441.7 340.0,441.9 341.5,442.1 343.0,442.3 344.5,442.5 346.0,442.6 347.5,442.8 349.0,443.0 350.5,443.2 352.0,443.4 353.5,443.6 355.0,443.7 356.5,443.9 358.0,444.1 359.5,444.3 361.0,444.5 362.5,444.7 364.0,444.9 365.5,445.0 367.0,445.2 368.5,445.4 370.0,445.6 371.5,445.8 373.0,446.0 374.5,446.2 376.0,446.4 377.5,446.6 379.0,446.8 380.5,447.0 382.0,447.2 383.5,447.3 385.0,447.5 386.5,447.7 388.0,447.9 389.5,448.1 391.0,448.3 392.5,448.5 394.0,448.7 395.5,448.9 397.0,449.1 398.5,449.3 400.0,449.5 401.5,449.7 403.0,449.9 404.5,450.1 406.0,450.3 407.5,450.5 409.0,450.7 410.5,450.9 412.0,451.1 413.5,451.3 415.0,451.5 416.5,451.7 418.0,451.9 419.5,452.1 421.0,452.3 422.5,452.5 424.0,452.7 425.5,452.9 427.0,453.1 428.5,453.3 430.0,453.5 431.5,453.7 433.0,453.9 434.5,454.1 436.0,454.3 437.5,454.5 439.0,454.7 440.5,454.9 442.0,455.1 443.5,455.3 445.0,455.5 446.5,455.7 448.0,455.9 449.5,456.1 451.0,456.3 452.5,456.5 454.0,456.7 455.5,456.9 457.0,457.1 458.5,457.2 460.0,457.4 461.5,457.6 463.0,457.8 464.5,458.0 466.0,458.2 467.5,458.4 469.0,458.6 470.5,458.8 472.0,459.0 473.5,459.2 475.0,459.4 476.5,459.6 478.0,459.8 479.5,460.0 481.0,460.2 482.5,460.4 484.0,460.6 485.5,460.8 487.0,461.0 488.5,461.2 490.0,461.4 491.5,461.6 493.0,461.8 494.5,462.0 496.0,462.2 497.5,462.4 499.0,462.6 500.5,462.8 502.0,462.9 503.5,463.1 505.0,463.3 506.5,463.5 508.0,463.7 509.5,463.9 511.0,464.1 512.5,464.3 514.0,464.5 515.5,464.7 517.0,464.9 518.5,465.1 520.0,465.3 521.5,465.5 523.0,465.7 524.5,465.9 526.0,466.1 527.5,466.3 529.0,466.5 530.5,466.7 532.0,466.9 533.5,467.1 535.0,467.3 536.5,467.5 538.0,467.7 539.5,467.8 541.0,468.0 542.5,468.2 544.0,468.4 545.5,468.6 547.0,468.8 548.5,469.0 550.0,469.2 551.5,469.4 553.0,469.6 554.5,469.8 556.0,470.0 557.5,470.2 559.0,470.4 560.5,470.6 562.0,470.8 563.5,471.0 565.0,471.2 566.5,471.4 568.0,471.6 569.5,471.8 571.0,472.0 572.5,472.2 574.0,472.4 575.5,472.6 577.0,472.8 578.5,473.0 580.0,473.2 581.5,473.4 583.0,473.6 584.5,473.8 586.0,474.0 587.5,474.2 589.0,474.4 590.5,474.6 592.0,474.8 593.5,475.0 595.0,475.2 596.5,475.4 598.0,475.6 599.5,475.8 601.0,476.0 602.5,476.2 604.0,476.4 605.5,476.7 607.0,476.9 608.5,477.1 610.0,477.3 611.5,477.5 613.0,477.7 614.5,477.9 616.0,478.1 617.5,478.3 619.0,478.5 620.5,478.7 622.0,478.9 623.5,479.1 625.0,479.3 626.5,479.5 628.0,479.8 629.5,480.0 631.0,480.2 632.5,480.4 634.0,480.6 635.5,480.8 637.0,481.0 638.5,481.2 640.0,481.4 641.5,481.6 643.0,481.9 644.5,482.1 646.0,482.3 647.5,482.5 649.0,482.7 650.5,482.9 652.0,483.1 653.5,483.4 655.0,483.6 656.5,483.8 658.0,484.0 659.5,484.2 661.0,484.4 662.5,484.7 664.0,484.9"/>
<path d="M91.85,414.45H664.2" stroke="#8ab505" stroke-width="4.0"/>
</g>
<g fill="none" stroke="#0180eb" stroke-width="4.0" stroke-linejoin="round">
<polyline points="93.8,268.9 94.3,268.9 94.8,268.9 95.3,268.9 95.8,268.9 96.3,268.8 96.8,268.8 97.3,268.8 97.8,268.8 98.3,268.8 98.8,268.8 99.3,268.7 99.8,268.7 100.3,268.7 100.8,268.6 101.3,268.6 101.8,268.6 102.3,268.5 102.8,268.5 103.3,268.4 103.8,268.4 104.3,268.3 104.8,268.3 105.3,268.2 105.8,268.1 106.3,268.0 106.8,268.0 107.3,267.9 107.8,267.8 108.3,267.7 108.8,267.5 109.3,267.4 109.8,267.3 110.3,267.2 110.8,267.0 111.3,266.9 111.8,266.7 112.3,266.6 112.8,266.4 113.3,266.2 113.8,266.0 114.3,265.8 114.8,265.6 115.3,265.4 115.8,265.2 116.3,265.0 116.8,264.7 117.3,264.5 117.8,264.2 118.3,264.0 118.8,263.7 119.3,263.4 119.8,263.1 120.3,262.8 120.8,262.5 121.3,262.2 121.8,261.9 122.3,261.5 122.8,261.2 123.3,260.8 123.8,260.4 124.3,260.1 124.8,259.7 125.3,259.3 125.8,258.9 126.3,258.5 126.8,258.1 127.3,257.6 127.8,257.2 128.3,256.7 128.8,256.3 129.3,255.8 129.8,255.3 130.0,255.2 131.5,253.7 133.0,252.1 134.5,250.5 136.0,248.7 137.5,246.9 139.0,245.0 140.5,243.0 142.0,241.0 143.5,238.9 145.0,236.7 146.5,234.4 148.0,232.1 149.5,229.8 151.0,227.4 152.5,224.9 154.0,222.4 155.5,219.9 157.0,217.4 158.5,214.8 160.0,212.3 161.5,209.7 163.0,207.1 164.5,204.5 166.0,201.9 167.5,199.3 169.0,196.6 170.5,193.9 172.0,191.2 173.5,188.5 175.0,185.8 176.5,183.0 178.0,180.2 179.5,177.4 181.0,174.5 182.5,171.6 184.0,168.7 185.5,165.7 187.0,162.7 188.5,159.7 190.0,156.6 191.5,153.4 193.0,150.3 194.5,147.1 196.0,143.8 197.5,140.5 199.0,137.2 200.5,133.8 202.0,130.4 203.5,127.0 205.0,123.6 206.5,120.1 208.0,116.6 209.5,113.1 211.0,109.6 212.5,106.0 214.0,102.4 215.5,98.9 217.0,95.3 218.5,91.7 220.0,88.1 221.5,84.4 223.0,80.8 224.5,77.2 226.0,73.6 227.5,69.9 229.0,66.3 230.5,62.7 232.0,59.1 233.5,55.4 235.0,51.8 236.5,48.2 238.0,44.6 239.5,41.0 241.0,37.4 242.5,33.9 244.0,30.3 245.5,26.8 247.0,23.2 248.5,19.7 250.0,16.2 251.5,12.7 253.0,9.3 270.0,-40.0 667.2,-40.0"/>
<polyline points="93.8,286.9 94.3,286.9 94.8,287.0 95.3,287.0 95.8,287.1 96.3,287.2 96.8,287.3 97.3,287.4 97.8,287.6 98.3,287.7 98.8,287.9 99.3,288.0 99.8,288.2 100.3,288.4 100.8,288.6 101.3,288.8 101.8,289.0 102.3,289.2 102.8,289.4 103.3,289.6 103.8,289.9 104.3,290.1 104.8,290.3 105.3,290.5 105.8,290.7 106.3,290.9 106.8,291.2 107.3,291.4 107.8,291.6 108.3,291.8 108.8,292.1 109.3,292.3 109.8,292.5 110.3,292.8 110.8,293.0 111.3,293.3 111.8,293.5 112.3,293.8 112.8,294.1 113.3,294.4 113.8,294.7 114.3,295.0 114.8,295.3 115.3,295.6 115.8,295.9 116.3,296.3 116.8,296.6 117.3,297.0 117.8,297.4 118.3,297.8 118.8,298.2 119.3,298.6 119.8,299.0 120.3,299.4 120.8,299.9 121.3,300.4 121.8,300.8 122.3,301.3 122.8,301.8 123.3,302.3 123.8,302.8 124.3,303.3 124.8,303.8 125.3,304.4 125.8,304.9 126.3,305.5 126.8,306.0 127.3,306.6 127.8,307.2 128.3,307.7 128.8,308.3 129.3,308.9 129.8,309.5 130.0,309.7 131.5,311.5 133.0,313.3 134.5,315.2 136.0,317.1 137.5,318.9 139.0,320.8 140.5,322.7 142.0,324.6 143.5,326.4 145.0,328.2 146.5,330.1 148.0,331.9 149.5,333.6 151.0,335.4 152.5,337.2 154.0,338.9 155.5,340.6 157.0,342.3 158.5,344.0 160.0,345.7 161.5,347.4 163.0,349.0 164.5,350.6 166.0,352.3 167.5,353.9 169.0,355.5 170.5,357.1 172.0,358.6 173.5,360.2 175.0,361.7 176.5,363.3 178.0,364.8 179.5,366.3 181.0,367.8 182.5,369.3 184.0,370.8 185.5,372.2 187.0,373.7 188.5,375.1 190.0,376.5 191.5,377.9 193.0,379.3 194.5,380.7 196.0,382.1 197.5,383.5 199.0,384.8 200.5,386.2 202.0,387.5 203.5,388.8 205.0,390.1 206.5,391.4 208.0,392.7 209.5,393.9 211.0,395.2 212.5,396.4 214.0,397.7 215.5,398.9 217.0,400.1 218.5,401.3 220.0,402.5 221.5,403.7 223.0,404.8 224.5,406.0 226.0,407.1 227.5,408.2 229.0,409.3 230.5,410.4 232.0,411.5 233.5,412.6 235.0,413.7 236.5,414.7 238.0,415.7 239.5,416.8 241.0,417.8 242.5,418.8 244.0,419.8 245.5,420.8 247.0,421.8 248.5,422.7 250.0,423.7 251.5,424.6 253.0,425.5 254.5,426.5 256.0,427.4 257.5,428.3 259.0,429.2 260.5,430.1 262.0,430.9 263.5,431.8 265.0,432.7 266.5,433.5 268.0,434.3 269.5,435.2 271.0,436.0 272.5,436.8 274.0,437.6 275.5,438.4 277.0,439.2 278.5,440.0 280.0,440.7 281.5,441.5 283.0,442.3 284.5,443.0 286.0,443.8 287.5,444.5 289.0,445.2 290.5,445.9 292.0,446.6 293.5,447.4 295.0,448.1 296.5,448.7 298.0,449.4 299.5,450.1 301.0,450.8 302.5,451.5 304.0,452.1 305.5,452.8 307.0,453.4 308.5,454.1 310.0,454.7 311.5,455.3 313.0,456.0 314.5,456.6 316.0,457.2 317.5,457.8 319.0,458.4 320.5,459.0 322.0,459.6 323.5,460.2 325.0,460.8 326.5,461.4 328.0,462.0 329.5,462.6 331.0,463.2 332.5,463.7 334.0,464.3 335.5,464.9 337.0,465.4 338.5,466.0 340.0,466.6 341.5,467.1 343.0,467.7 344.5,468.2 346.0,468.8 347.5,469.3 349.0,469.8 350.5,470.4 352.0,470.9 353.5,471.4 355.0,471.9 356.5,472.5 358.0,473.0 359.5,473.5 361.0,474.0 362.5,474.5 364.0,475.0 365.5,475.5 367.0,476.0 368.5,476.5 370.0,477.0 371.5,477.5 373.0,477.9 374.5,478.4 376.0,478.9 377.5,479.4 379.0,479.9 380.5,480.3 382.0,480.8 383.5,481.2 385.0,481.7 386.5,482.2 388.0,482.6 389.5,483.1 391.0,483.5 392.5,484.0 394.0,484.4 395.5,484.8 397.0,485.3 398.5,485.7 400.0,486.1 401.5,486.6 403.0,487.0 404.5,487.4 406.0,487.8 407.5,488.2 409.0,488.6 410.5,489.0 412.0,489.5 413.5,489.9 415.0,490.3 416.5,490.7 418.0,491.0 419.5,491.4 421.0,491.8 422.5,492.2 424.0,492.6 425.5,493.0 427.0,493.4 428.5,493.7 430.0,494.1 431.5,494.5 433.0,494.9 434.5,495.2 436.0,495.6 437.5,495.9 439.0,496.3 440.5,496.7 442.0,497.0 443.5,497.4 445.0,497.7 446.5,498.1 448.0,498.4 449.5,498.7 451.0,499.1 452.5,499.4 454.0,499.7 455.5,500.1 457.0,500.4 458.5,500.7 460.0,501.1 461.5,501.4 463.0,501.7 464.5,502.0 466.0,502.3 467.5,502.6 469.0,503.0 470.5,503.3 472.0,503.6 473.5,503.9 475.0,504.2 476.5,504.5 478.0,504.8 479.5,505.1 481.0,505.4 482.5,505.7 484.0,505.9 485.5,506.2 487.0,506.5 488.5,506.8 490.0,507.1 491.5,507.4 493.0,507.6 494.5,507.9 496.0,508.2 497.5,508.5 499.0,508.7 500.5,509.0 502.0,509.3 503.5,509.5 505.0,509.8 506.5,510.0 508.0,510.3 509.5,510.6 511.0,510.8 512.5,511.1 514.0,511.3 515.5,511.6 517.0,511.8 518.5,512.0 520.0,512.3 521.5,512.5 523.0,512.8 524.5,513.0 526.0,513.2 527.5,513.5 529.0,513.7 530.5,513.9 532.0,514.2 533.5,514.4 535.0,514.6 536.5,514.8 538.0,515.1 539.5,515.3 541.0,515.5 542.5,515.7 544.0,515.9 545.5,516.1 547.0,516.3 548.5,516.6 550.0,516.8 551.5,517.0 553.0,517.2 554.5,517.4 556.0,517.6 557.5,517.8 559.0,518.0 560.5,518.2 562.0,518.4 563.5,518.6 565.0,518.8 566.5,518.9 568.0,519.1 569.5,519.3 571.0,519.5 572.5,519.7 574.0,519.9 575.5,520.1 577.0,520.2 578.5,520.4 580.0,520.6 581.5,520.8 583.0,520.9 584.5,521.1 586.0,521.3 587.5,521.5 589.0,521.6 590.5,521.8 592.0,522.0 593.5,522.1 595.0,522.3 596.5,522.5 598.0,522.6 599.5,522.8 601.0,523.0 602.5,523.1 604.0,523.3 605.5,523.4 607.0,523.6 608.5,523.7 610.0,523.9 611.5,524.0 613.0,524.2 614.5,524.3 616.0,524.5 617.5,524.6 619.0,524.8 620.5,524.9 622.0,525.1 623.5,525.2 625.0,525.4 626.5,525.5 628.0,525.6 629.5,525.8 631.0,525.9 632.5,526.0 634.0,526.2 635.5,526.3 637.0,526.4 638.5,526.6 640.0,526.7 641.5,526.8 643.0,527.0 644.5,527.1 646.0,527.2 647.5,527.4 649.0,527.5 650.5,527.6 652.0,527.7 653.5,527.9 655.0,528.0 656.5,528.1 658.0,528.2 659.5,528.3 661.0,528.5 662.5,528.6 664.0,528.7"/>
<path d="M91.85,281.90H664.2" stroke="#0180eb" stroke-width="4.0"/>
</g>
<g fill="none" stroke="#a37fb7" stroke-width="3.3" stroke-linejoin="round">
<polyline points="93.8,127.5 94.3,127.3 94.8,127.0 95.3,126.8 95.8,126.5 96.3,126.3 96.8,126.1 97.3,125.9 97.8,125.7 98.3,125.6 98.8,125.4 99.3,125.2 99.8,125.1 100.3,125.0 100.8,124.8 101.3,124.7 101.8,124.6 102.3,124.5 102.8,124.4 103.3,124.3 103.8,124.2 104.3,124.1 104.8,124.0 105.3,123.9 105.8,123.8 106.3,123.7 106.8,123.6 107.3,123.5 107.8,123.5 108.3,123.4 108.8,123.3 109.3,123.2 109.8,123.1 110.3,123.1 110.8,123.0 111.3,122.9 111.8,122.8 112.3,122.8 112.8,122.7 113.3,122.6 113.8,122.6 114.3,122.5 114.8,122.4 115.3,122.4 115.8,122.3 116.3,122.2 116.8,122.2 117.3,122.1 117.8,122.0 118.3,122.0 118.8,121.9 119.3,121.9 119.8,121.8 120.3,121.7 120.8,121.7 121.3,121.6 121.8,121.6 122.3,121.5 122.8,121.5 123.3,121.4 123.8,121.4 124.3,121.3 124.8,121.3 125.3,121.2 125.8,121.2 126.3,121.1 126.8,121.1 127.3,121.0 127.8,121.0 128.3,120.9 128.8,120.9 129.3,120.8 129.8,120.8 130.0,120.8 131.5,120.6 133.0,120.5 134.5,120.4 136.0,120.2 137.5,120.1 139.0,120.0 140.5,119.9 142.0,119.7 143.5,119.6 145.0,119.5 146.5,119.4 148.0,119.2 149.5,119.1 151.0,119.0 152.5,118.8 154.0,118.7 155.5,118.6 157.0,118.5 158.5,118.3 160.0,118.2 161.5,118.1 163.0,118.0 164.5,117.8 166.0,117.7 167.5,117.6 169.0,117.4 170.5,117.3 172.0,117.2 173.5,117.0 175.0,116.9 176.5,116.8 178.0,116.7 179.5,116.5 181.0,116.4 182.5,116.3 184.0,116.1 185.5,116.0 187.0,115.9 188.5,115.7 190.0,115.6 191.5,115.5 193.0,115.3 194.5,115.2 196.0,115.1 197.5,114.9 199.0,114.8 200.5,114.7 202.0,114.5 203.5,114.4 205.0,114.3 206.5,114.1 208.0,114.0 209.5,113.9 211.0,113.7 212.5,113.6 214.0,113.5 215.5,113.3 217.0,113.2 218.5,113.1 220.0,112.9 221.5,112.8 223.0,112.7 224.5,112.5 226.0,112.4 227.5,112.3 229.0,112.1 230.5,112.0 232.0,111.8 233.5,111.7 235.0,111.6 236.5,111.4 238.0,111.3 239.5,111.2 241.0,111.0 242.5,110.9 244.0,110.8 245.5,110.6 247.0,110.5 248.5,110.3 250.0,110.2 251.5,110.1 253.0,109.9 254.5,109.8 256.0,109.7 257.5,109.5 259.0,109.4 260.5,109.2 262.0,109.1 263.5,109.0 265.0,108.8 266.5,108.7 268.0,108.6 269.5,108.4 271.0,108.3 272.5,108.1 274.0,108.0 275.5,107.9 277.0,107.7 278.5,107.6 280.0,107.5 281.5,107.3 283.0,107.2 284.5,107.0 286.0,106.9 287.5,106.8 289.0,106.6 290.5,106.5 292.0,106.3 293.5,106.2 295.0,106.1 296.5,105.9 298.0,105.8 299.5,105.6 301.0,105.5 302.5,105.3 304.0,105.2 305.5,105.1 307.0,104.9 308.5,104.8 310.0,104.6 311.5,104.5 313.0,104.3 314.5,104.2 316.0,104.1 317.5,103.9 319.0,103.8 320.5,103.6 322.0,103.5 323.5,103.3 325.0,103.2 326.5,103.0 328.0,102.9 329.5,102.7 331.0,102.6 332.5,102.5 334.0,102.3 335.5,102.2 337.0,102.0 338.5,101.9 340.0,101.7 341.5,101.6 343.0,101.4 344.5,101.3 346.0,101.1 347.5,100.9 349.0,100.8 350.5,100.6 352.0,100.5 353.5,100.3 355.0,100.2 356.5,100.0 358.0,99.9 359.5,99.7 361.0,99.6 362.5,99.4 364.0,99.2 365.5,99.1 367.0,98.9 368.5,98.8 370.0,98.6 371.5,98.4 373.0,98.3 374.5,98.1 376.0,98.0 377.5,97.8 379.0,97.6 380.5,97.5 382.0,97.3 383.5,97.1 385.0,97.0 386.5,96.8 388.0,96.6 389.5,96.5 391.0,96.3 392.5,96.1 394.0,96.0 395.5,95.8 397.0,95.6 398.5,95.5 400.0,95.3 401.5,95.1 403.0,94.9 404.5,94.8 406.0,94.6 407.5,94.4 409.0,94.2 410.5,94.1 412.0,93.9 413.5,93.7 415.0,93.5 416.5,93.3 418.0,93.2 419.5,93.0 421.0,92.8 422.5,92.6 424.0,92.4 425.5,92.2 427.0,92.1 428.5,91.9 430.0,91.7 431.5,91.5 433.0,91.3 434.5,91.1 436.0,90.9 437.5,90.7 439.0,90.5 440.5,90.3 442.0,90.2 443.5,90.0 445.0,89.8 446.5,89.6 448.0,89.4 449.5,89.2 451.0,89.0 452.5,88.8 454.0,88.6 455.5,88.4 457.0,88.2 458.5,88.0 460.0,87.8 461.5,87.5 463.0,87.3 464.5,87.1 466.0,86.9 467.5,86.7 469.0,86.5 470.5,86.3 472.0,86.1 473.5,85.9 475.0,85.6 476.5,85.4 478.0,85.2 479.5,85.0 481.0,84.8 482.5,84.6 484.0,84.3 485.5,84.1 487.0,83.9 488.5,83.7 490.0,83.4 491.5,83.2 493.0,83.0 494.5,82.8 496.0,82.5 497.5,82.3 499.0,82.1 500.5,81.8 502.0,81.6 503.5,81.4 505.0,81.1 506.5,80.9 508.0,80.7 509.5,80.4 511.0,80.2 512.5,79.9 514.0,79.7 515.5,79.5 517.0,79.2 518.5,79.0 520.0,78.7 521.5,78.5 523.0,78.2 524.5,78.0 526.0,77.7 527.5,77.5 529.0,77.2 530.5,77.0 532.0,76.7 533.5,76.5 535.0,76.2 536.5,75.9 538.0,75.7 539.5,75.4 541.0,75.1 542.5,74.9 544.0,74.6 545.5,74.4 547.0,74.1 548.5,73.8 550.0,73.5 551.5,73.3 553.0,73.0 554.5,72.7 556.0,72.5 557.5,72.2 559.0,71.9 560.5,71.6 562.0,71.3 563.5,71.1 565.0,70.8 566.5,70.5 568.0,70.2 569.5,69.9 571.0,69.6 572.5,69.3 574.0,69.0 575.5,68.8 577.0,68.5 578.5,68.2 580.0,67.9 581.5,67.6 583.0,67.3 584.5,67.0 586.0,66.7 587.5,66.4 589.0,66.1 590.5,65.8 592.0,65.5 593.5,65.2 595.0,64.8 596.5,64.5 598.0,64.2 599.5,63.9 601.0,63.6 602.5,63.3 604.0,63.0 605.5,62.6 607.0,62.3 608.5,62.0 610.0,61.7 611.5,61.3 613.0,61.0 614.5,60.7 616.0,60.4 617.5,60.0 619.0,59.7 620.5,59.4 622.0,59.0 623.5,58.7 625.0,58.4 626.5,58.0 628.0,57.7 629.5,57.3 631.0,57.0 632.5,56.7 634.0,56.3 635.5,56.0 637.0,55.6 638.5,55.3 640.0,54.9 641.5,54.6 643.0,54.2 644.5,53.8 646.0,53.5 647.5,53.1 649.0,52.8 650.5,52.4 652.0,52.0 653.5,51.7 655.0,51.3 656.5,50.9 658.0,50.6 659.5,50.2 661.0,49.8 662.5,49.4 664.0,49.1"/>
<polyline points="93.8,177.1 94.3,177.3 94.8,177.6 95.3,177.9 95.8,178.1 96.3,178.3 96.8,178.5 97.3,178.7 97.8,178.8 98.3,179.0 98.8,179.2 99.3,179.3 99.8,179.5 100.3,179.6 100.8,179.8 101.3,179.9 101.8,180.1 102.3,180.2 102.8,180.3 103.3,180.5 103.8,180.6 104.3,180.7 104.8,180.8 105.3,181.0 105.8,181.1 106.3,181.2 106.8,181.3 107.3,181.4 107.8,181.6 108.3,181.7 108.8,181.8 109.3,181.9 109.8,182.0 110.3,182.1 110.8,182.2 111.3,182.3 111.8,182.4 112.3,182.5 112.8,182.6 113.3,182.7 113.8,182.8 114.3,182.9 114.8,183.0 115.3,183.1 115.8,183.2 116.3,183.3 116.8,183.4 117.3,183.5 117.8,183.5 118.3,183.6 118.8,183.7 119.3,183.8 119.8,183.9 120.3,184.0 120.8,184.0 121.3,184.1 121.8,184.2 122.3,184.3 122.8,184.3 123.3,184.4 123.8,184.5 124.3,184.6 124.8,184.6 125.3,184.7 125.8,184.8 126.3,184.8 126.8,184.9 127.3,185.0 127.8,185.0 128.3,185.1 128.8,185.2 129.3,185.2 129.8,185.3 130.0,185.3 131.5,185.5 133.0,185.7 134.5,185.9 136.0,186.1 137.5,186.2 139.0,186.4 140.5,186.6 142.0,186.7 143.5,186.9 145.0,187.1 146.5,187.3 148.0,187.4 149.5,187.6 151.0,187.8 152.5,187.9 154.0,188.1 155.5,188.3 157.0,188.5 158.5,188.6 160.0,188.8 161.5,189.0 163.0,189.1 164.5,189.3 166.0,189.5 167.5,189.6 169.0,189.8 170.5,190.0 172.0,190.1 173.5,190.3 175.0,190.5 176.5,190.7 178.0,190.8 179.5,191.0 181.0,191.2 182.5,191.3 184.0,191.5 185.5,191.7 187.0,191.8 188.5,192.0 190.0,192.2 191.5,192.4 193.0,192.5 194.5,192.7 196.0,192.9 197.5,193.0 199.0,193.2 200.5,193.4 202.0,193.6 203.5,193.7 205.0,193.9 206.5,194.1 208.0,194.2 209.5,194.4 211.0,194.6 212.5,194.8 214.0,194.9 215.5,195.1 217.0,195.3 218.5,195.5 220.0,195.6 221.5,195.8 223.0,196.0 224.5,196.2 226.0,196.4 227.5,196.5 229.0,196.7 230.5,196.9 232.0,197.1 233.5,197.3 235.0,197.4 236.5,197.6 238.0,197.8 239.5,198.0 241.0,198.2 242.5,198.4 244.0,198.6 245.5,198.7 247.0,198.9 248.5,199.1 250.0,199.3 251.5,199.5 253.0,199.7 254.5,199.9 256.0,200.1 257.5,200.3 259.0,200.5 260.5,200.7 262.0,200.9 263.5,201.1 265.0,201.3 266.5,201.5 268.0,201.7 269.5,201.9 271.0,202.1 272.5,202.3 274.0,202.5 275.5,202.7 277.0,202.9 278.5,203.1 280.0,203.3 281.5,203.5 283.0,203.7 284.5,203.9 286.0,204.1 287.5,204.3 289.0,204.6 290.5,204.8 292.0,205.0 293.5,205.2 295.0,205.4 296.5,205.6 298.0,205.8 299.5,206.1 301.0,206.3 302.5,206.5 304.0,206.7 305.5,206.9 307.0,207.1 308.5,207.4 310.0,207.6 311.5,207.8 313.0,208.0 314.5,208.3 316.0,208.5 317.5,208.7 319.0,208.9 320.5,209.2 322.0,209.4 323.5,209.6 325.0,209.8 326.5,210.1 328.0,210.3 329.5,210.5 331.0,210.7 332.5,211.0 334.0,211.2 335.5,211.4 337.0,211.7 338.5,211.9 340.0,212.1 341.5,212.4 343.0,212.6 344.5,212.8 346.0,213.1 347.5,213.3 349.0,213.5 350.5,213.8 352.0,214.0 353.5,214.2 355.0,214.5 356.5,214.7 358.0,214.9 359.5,215.2 361.0,215.4 362.5,215.6 364.0,215.9 365.5,216.1 367.0,216.4 368.5,216.6 370.0,216.8 371.5,217.1 373.0,217.3 374.5,217.5 376.0,217.8 377.5,218.0 379.0,218.3 380.5,218.5 382.0,218.7 383.5,219.0 385.0,219.2 386.5,219.5 388.0,219.7 389.5,219.9 391.0,220.2 392.5,220.4 394.0,220.7 395.5,220.9 397.0,221.1 398.5,221.4 400.0,221.6 401.5,221.9 403.0,222.1 404.5,222.4 406.0,222.6 407.5,222.8 409.0,223.1 410.5,223.3 412.0,223.6 413.5,223.8 415.0,224.0 416.5,224.3 418.0,224.5 419.5,224.8 421.0,225.0 422.5,225.3 424.0,225.5 425.5,225.7 427.0,226.0 428.5,226.2 430.0,226.5 431.5,226.7 433.0,226.9 434.5,227.2 436.0,227.4 437.5,227.7 439.0,227.9 440.5,228.1 442.0,228.4 443.5,228.6 445.0,228.9 446.5,229.1 448.0,229.3 449.5,229.6 451.0,229.8 452.5,230.0 454.0,230.3 455.5,230.5 457.0,230.8 458.5,231.0 460.0,231.2 461.5,231.5 463.0,231.7 464.5,231.9 466.0,232.2 467.5,232.4 469.0,232.6 470.5,232.9 472.0,233.1 473.5,233.4 475.0,233.6 476.5,233.8 478.0,234.1 479.5,234.3 481.0,234.5 482.5,234.8 484.0,235.0 485.5,235.2 487.0,235.4 488.5,235.7 490.0,235.9 491.5,236.1 493.0,236.4 494.5,236.6 496.0,236.8 497.5,237.1 499.0,237.3 500.5,237.5 502.0,237.7 503.5,238.0 505.0,238.2 506.5,238.4 508.0,238.7 509.5,238.9 511.0,239.1 512.5,239.3 514.0,239.6 515.5,239.8 517.0,240.0 518.5,240.2 520.0,240.5 521.5,240.7 523.0,240.9 524.5,241.1 526.0,241.3 527.5,241.6 529.0,241.8 530.5,242.0 532.0,242.2 533.5,242.4 535.0,242.7 536.5,242.9 538.0,243.1 539.5,243.3 541.0,243.5 542.5,243.8 544.0,244.0 545.5,244.2 547.0,244.4 548.5,244.6 550.0,244.8 551.5,245.1 553.0,245.3 554.5,245.5 556.0,245.7 557.5,245.9 559.0,246.1 560.5,246.3 562.0,246.6 563.5,246.8 565.0,247.0 566.5,247.2 568.0,247.4 569.5,247.6 571.0,247.8 572.5,248.0 574.0,248.2 575.5,248.4 577.0,248.6 578.5,248.8 580.0,249.1 581.5,249.3 583.0,249.5 584.5,249.7 586.0,249.9 587.5,250.1 589.0,250.3 590.5,250.5 592.0,250.7 593.5,250.9 595.0,251.1 596.5,251.3 598.0,251.5 599.5,251.7 601.0,251.9 602.5,252.1 604.0,252.3 605.5,252.5 607.0,252.7 608.5,252.9 610.0,253.1 611.5,253.3 613.0,253.4 614.5,253.6 616.0,253.8 617.5,254.0 619.0,254.2 620.5,254.4 622.0,254.6 623.5,254.8 625.0,255.0 626.5,255.2 628.0,255.4 629.5,255.5 631.0,255.7 632.5,255.9 634.0,256.1 635.5,256.3 637.0,256.5 638.5,256.7 640.0,256.8 641.5,257.0 643.0,257.2 644.5,257.4 646.0,257.6 647.5,257.7 649.0,257.9 650.5,258.1 652.0,258.3 653.5,258.5 655.0,258.6 656.5,258.8 658.0,259.0 659.5,259.2 661.0,259.3 662.5,259.5 664.0,259.7"/>
<path d="M91.85,149.35H664.2" stroke="#7a4296" stroke-width="4.2"/>
</g>
</g>
<rect x="94.07" y="16.8" width="568.43" height="795.30" fill="none" stroke="#000" stroke-opacity="0.52" stroke-width="1.1"/>
<path d="M93.85,812.1v-10M93.85,16.8v10M108.81,812.1v-6M108.81,16.8v6M123.78,812.1v-6M123.78,16.8v6M138.75,812.1v-6M138.75,16.8v6M153.71,812.1v-6M153.71,16.8v6M168.68,812.1v-10M168.68,16.8v10M183.64,812.1v-6M183.64,16.8v6M198.60,812.1v-6M198.60,16.8v6M213.57,812.1v-6M213.57,16.8v6M228.53,812.1v-6M228.53,16.8v6M243.50,812.1v-10M243.50,16.8v10M258.47,812.1v-6M258.47,16.8v6M273.43,812.1v-6M273.43,16.8v6M288.39,812.1v-6M288.39,16.8v6M303.36,812.1v-6M303.36,16.8v6M318.33,812.1v-10M318.33,16.8v10M333.29,812.1v-6M333.29,16.8v6M348.25,812.1v-6M348.25,16.8v6M363.22,812.1v-6M363.22,16.8v6M378.18,812.1v-6M378.18,16.8v6M393.15,812.1v-10M393.15,16.8v10M408.12,812.1v-6M408.12,16.8v6M423.08,812.1v-6M423.08,16.8v6M438.04,812.1v-6M438.04,16.8v6M453.01,812.1v-6M453.01,16.8v6M467.98,812.1v-10M467.98,16.8v10M482.94,812.1v-6M482.94,16.8v6M497.91,812.1v-6M497.91,16.8v6M512.87,812.1v-6M512.87,16.8v6M527.84,812.1v-6M527.84,16.8v6M542.80,812.1v-10M542.80,16.8v10M557.76,812.1v-6M557.76,16.8v6M572.73,812.1v-6M572.73,16.8v6M587.69,812.1v-6M587.69,16.8v6M602.66,812.1v-6M602.66,16.8v6M617.62,812.1v-10M617.62,16.8v10M632.59,812.1v-6M632.59,16.8v6M647.56,812.1v-6M647.56,16.8v6M662.52,812.1v-6M662.52,16.8v6M94.07,812.10h10M662.2,812.10h-10M94.07,785.59h6M662.2,785.59h-6M94.07,759.08h6M662.2,759.08h-6M94.07,732.57h6M662.2,732.57h-6M94.07,706.06h6M662.2,706.06h-6M94.07,679.55h10M662.2,679.55h-10M94.07,653.04h6M662.2,653.04h-6M94.07,626.53h6M662.2,626.53h-6M94.07,600.02h6M662.2,600.02h-6M94.07,573.51h6M662.2,573.51h-6M94.07,547.00h10M662.2,547.00h-10M94.07,520.49h6M662.2,520.49h-6M94.07,493.98h6M662.2,493.98h-6M94.07,467.47h6M662.2,467.47h-6M94.07,440.96h6M662.2,440.96h-6M94.07,414.45h10M662.2,414.45h-10M94.07,387.94h6M662.2,387.94h-6M94.07,361.43h6M662.2,361.43h-6M94.07,334.92h6M662.2,334.92h-6M94.07,308.41h6M662.2,308.41h-6M94.07,281.90h10M662.2,281.90h-10M94.07,255.39h6M662.2,255.39h-6M94.07,228.88h6M662.2,228.88h-6M94.07,202.37h6M662.2,202.37h-6M94.07,175.86h6M662.2,175.86h-6M94.07,149.35h10M662.2,149.35h-10M94.07,122.84h6M662.2,122.84h-6M94.07,96.33h6M662.2,96.33h-6M94.07,69.82h6M662.2,69.82h-6M94.07,43.31h6M662.2,43.31h-6M94.07,16.80h10M662.2,16.80h-10" stroke="#000" stroke-opacity="0.6" stroke-width="1.05" fill="none"/>
<text x="89.1" y="820.40" font-size="25.3" text-anchor="end" stroke="#fff" stroke-width="0.18">0.5</text>
<text x="89.1" y="687.85" font-size="25.3" text-anchor="end" stroke="#fff" stroke-width="0.18">1.0</text>
<text x="89.1" y="555.30" font-size="25.3" text-anchor="end" stroke="#fff" stroke-width="0.18">1.5</text>
<text x="89.1" y="422.75" font-size="25.3" text-anchor="end" stroke="#fff" stroke-width="0.18">2.0</text>
<text x="89.1" y="290.20" font-size="25.3" text-anchor="end" stroke="#fff" stroke-width="0.18">2.5</text>
<text x="89.1" y="157.65" font-size="25.3" text-anchor="end" stroke="#fff" stroke-width="0.18">3.0</text>
<text x="89.1" y="25.10" font-size="25.3" text-anchor="end" stroke="#fff" stroke-width="0.18">3.5</text>
<text x="94.25" y="840.2" font-size="25.3" text-anchor="middle" stroke="#fff" stroke-width="0.18">0.0</text>
<text x="169.08" y="840.2" font-size="25.3" text-anchor="middle" stroke="#fff" stroke-width="0.18">0.5</text>
<text x="243.90" y="840.2" font-size="25.3" text-anchor="middle" stroke="#fff" stroke-width="0.18">1.0</text>
<text x="318.73" y="840.2" font-size="25.3" text-anchor="middle" stroke="#fff" stroke-width="0.18">1.5</text>
<text x="393.55" y="840.2" font-size="25.3" text-anchor="middle" stroke="#fff" stroke-width="0.18">2.0</text>
<text x="468.38" y="840.2" font-size="25.3" text-anchor="middle" stroke="#fff" stroke-width="0.18">2.5</text>
<text x="543.20" y="840.2" font-size="25.3" text-anchor="middle" stroke="#fff" stroke-width="0.18">3.0</text>
<text x="618.02" y="840.2" font-size="25.3" text-anchor="middle" stroke="#fff" stroke-width="0.18">3.5</text>
<text font-style="italic" font-size="34.21" transform="translate(326.53,65.30) scale(1.023,1)" fill="#000">x</text>
<path d="M354.70,53.50H377.60" stroke="#000" stroke-width="1.4" fill="none"/>
<path d="M354.70,60.80H377.60" stroke="#000" stroke-width="1.4" fill="none"/>
<text font-size="34.28" transform="translate(388.51,65.00) scale(0.984,1)" fill="#000">0</text>
<circle cx="410.10" cy="63.40" r="1.90" fill="#000"/>
<text font-size="34.54" transform="translate(415.10,65.30) scale(0.888,1)" fill="#000">1</text>
<text font-style="italic" font-size="28.23" transform="translate(168.25,122.90) scale(1.001,1)" fill="#000">s</text>
<path d="M190.20,100.80 Q174.60,116.20 190.20,131.60 Q177.60,116.20 190.20,100.80Z" fill="#000" stroke="#000" stroke-width="0.55" stroke-linejoin="round"/>
<path d="M192.70,115.50H209.80M201.25,106.95V124.05" stroke="#000" stroke-width="1.3" fill="none"/>
<text font-size="28.39" transform="translate(212.41,122.90) scale(1.037,1)" fill="#000">2</text>
<circle cx="230.30" cy="121.30" r="1.60" fill="#000"/>
<text font-size="28.27" transform="translate(233.11,122.60) scale(1.102,1)" fill="#000">0</text>
<path d="M251.00,100.80 Q265.80,116.20 251.00,131.60 Q262.80,116.20 251.00,100.80Z" fill="#000" stroke="#000" stroke-width="0.55" stroke-linejoin="round"/>
<text font-style="italic" font-size="28.32" transform="translate(164.98,256.40) scale(1.219,1)" fill="#000">u</text>
<path d="M168.60,238.70H179.40" stroke="#000" stroke-width="1.2" fill="none"/>
<path d="M191.80,233.20 Q176.80,248.20 191.80,263.20 Q179.80,248.20 191.80,233.20Z" fill="#000" stroke="#000" stroke-width="0.55" stroke-linejoin="round"/>
<path d="M194.10,248.50H213.10M203.60,239.00V258.00" stroke="#000" stroke-width="1.3" fill="none"/>
<text font-size="29.08" transform="translate(215.88,256.40) scale(0.908,1)" fill="#000">1</text>
<circle cx="233.30" cy="254.80" r="1.60" fill="#000"/>
<text font-size="28.41" transform="translate(236.96,256.10) scale(0.996,1)" fill="#000">5</text>
<path d="M252.40,233.20 Q267.20,248.20 252.40,263.20 Q264.20,248.20 252.40,233.20Z" fill="#000" stroke="#000" stroke-width="0.55" stroke-linejoin="round"/>
<text font-style="italic" font-size="28.68" transform="translate(165.76,387.90) scale(1.086,1)" fill="#000">d</text>
<path d="M173.10,362.80H183.30" stroke="#000" stroke-width="1.2" fill="none"/>
<path d="M191.80,364.40 Q176.00,379.80 191.80,395.20 Q179.00,379.80 191.80,364.40Z" fill="#000" stroke="#000" stroke-width="0.55" stroke-linejoin="round"/>
<path d="M194.10,380.10H213.10M203.60,370.60V389.60" stroke="#000" stroke-width="1.3" fill="none"/>
<text font-size="29.08" transform="translate(215.88,387.90) scale(0.908,1)" fill="#000">1</text>
<circle cx="233.30" cy="386.30" r="1.60" fill="#000"/>
<text font-size="28.72" transform="translate(236.12,387.60) scale(1.076,1)" fill="#000">0</text>
<path d="M252.40,364.40 Q267.20,379.80 252.40,395.20 Q264.20,379.80 252.40,364.40Z" fill="#000" stroke="#000" stroke-width="0.55" stroke-linejoin="round"/>
<text font-style="italic" font-size="28.76" transform="translate(164.98,521.50) scale(1.201,1)" fill="#000" stroke="#fff" stroke-width="0.2">u</text>
<path d="M191.80,497.70 Q176.80,512.90 191.80,528.10 Q179.80,512.90 191.80,497.70Z" fill="#000" stroke="#000" stroke-width="0.55" stroke-linejoin="round"/>
<path d="M194.10,512.80H213.10M203.60,503.30V522.30" stroke="#000" stroke-width="1.3" fill="none"/>
<text font-size="28.42" transform="translate(214.56,521.20) scale(1.054,1)" fill="#000" stroke="#fff" stroke-width="0.2">0</text>
<circle cx="233.30" cy="519.90" r="1.60" fill="#000"/>
<text font-size="28.41" transform="translate(236.96,521.20) scale(0.996,1)" fill="#000" stroke="#fff" stroke-width="0.2">5</text>
<path d="M252.40,497.70 Q267.20,512.90 252.40,528.10 Q264.20,512.90 252.40,497.70Z" fill="#000" stroke="#000" stroke-width="0.55" stroke-linejoin="round"/>
<text font-style="italic" font-size="29.69" transform="translate(205.87,653.60) scale(1.034,1)" fill="#000" stroke="#fff" stroke-width="0.2">d</text>
<text font-style="italic" font-size="35.60" transform="translate(290.83,887.30) scale(0.883,1)" fill="#000" stroke="#fff" stroke-width="0.2">b</text>
<path d="M317.60,858.70 Q299.80,877.25 317.60,895.80 Q303.40,877.25 317.60,858.70Z" fill="#000" stroke="#000" stroke-width="0.6" stroke-linejoin="round"/>
<text font-size="35.04" transform="translate(319.39,887.00) scale(1.054,1)" fill="#000" stroke="#fff" stroke-width="0.2">G</text>
<text font-size="32.68" transform="translate(346.62,887.00) scale(1.000,1)" fill="#000" stroke="#fff" stroke-width="0.2">e</text>
<text font-size="35.13" transform="translate(360.83,887.30) scale(0.936,1)" fill="#000" stroke="#fff" stroke-width="0.2">V</text>
<path d="M385.60,865.60H399.20" stroke="#000" stroke-width="1.2" fill="none"/>
<text font-size="24.39" transform="translate(399.95,873.40) scale(1.048,1)" fill="#000" stroke="#fff" stroke-width="0.2">1</text>
<path d="M414.20,858.70 Q435.40,877.25 414.20,895.80 Q431.80,877.25 414.20,858.70Z" fill="#000" stroke="#000" stroke-width="0.6" stroke-linejoin="round"/>
<g transform="translate(31.4,547.5) rotate(-90)">
<text font-style="italic" font-size="34.09" transform="translate(-0.47,0) scale(1.237,1)" stroke="#fff" stroke-width="0.25">f</text>
<text font-size="20.00" transform="translate(15.75,5.70) scale(1.165,1)" fill="#000" stroke="#fff" stroke-width="0.2">1</text>
<path d="M40.00,-24.80 Q22.00,-8.30 40.00,8.20 Q25.20,-8.30 40.00,-24.80Z" fill="#000" stroke="#000" stroke-width="0.55" stroke-linejoin="round"/>
<text font-style="italic" font-size="34.21" transform="translate(42.15,0.00) scale(1.075,1)" fill="#000" stroke="#fff" stroke-width="0.2">x</text>
<text font-size="33.0" transform="translate(60.45,0) scale(0.834,1)" stroke="#fff" stroke-width="0.18">,</text>
<text font-style="italic" font-size="34.59" transform="translate(71.72,0.00) scale(0.996,1)" fill="#000" stroke="#fff" stroke-width="0.2">b</text>
<path d="M90.40,-24.80 Q110.20,-8.30 90.40,8.20 Q107.00,-8.30 90.40,-24.80Z" fill="#000" stroke="#000" stroke-width="0.55" stroke-linejoin="round"/>
<path d="M104.4,8.2L116.8,-24.8" stroke="#000" stroke-width="1.3"/>
<path d="M131.40,-24.8L122.30,-8.3L131.40,8.2" fill="none" stroke="#000" stroke-width="1.3"/>
<text font-style="italic" font-size="34.09" transform="translate(132.84,0) scale(1.199,1)" stroke="#fff" stroke-width="0.25">f</text>
<text font-size="20.00" transform="translate(148.23,5.70) scale(1.179,1)" fill="#000" stroke="#fff" stroke-width="0.2">1</text>
<path d="M172.60,-24.80 Q155.40,-8.30 172.60,8.20 Q158.60,-8.30 172.60,-24.80Z" fill="#000" stroke="#000" stroke-width="0.55" stroke-linejoin="round"/>
<text font-style="italic" font-size="34.21" transform="translate(174.75,0.00) scale(1.075,1)" fill="#000" stroke="#fff" stroke-width="0.2">x</text>
<text font-size="33.0" transform="translate(193.05,0) scale(0.834,1)" stroke="#fff" stroke-width="0.18">,</text>
<text font-style="italic" font-size="34.59" transform="translate(204.32,0.00) scale(0.996,1)" fill="#000" stroke="#fff" stroke-width="0.2">b</text>
<path d="M223.80,-24.80 Q243.60,-8.30 223.80,8.20 Q240.40,-8.30 223.80,-24.80Z" fill="#000" stroke="#000" stroke-width="0.55" stroke-linejoin="round"/>
<path d="M236.10,-24.8L244.40,-8.3L236.10,8.2" fill="none" stroke="#000" stroke-width="1.3"/>
</g>
</svg>
</body></html>
